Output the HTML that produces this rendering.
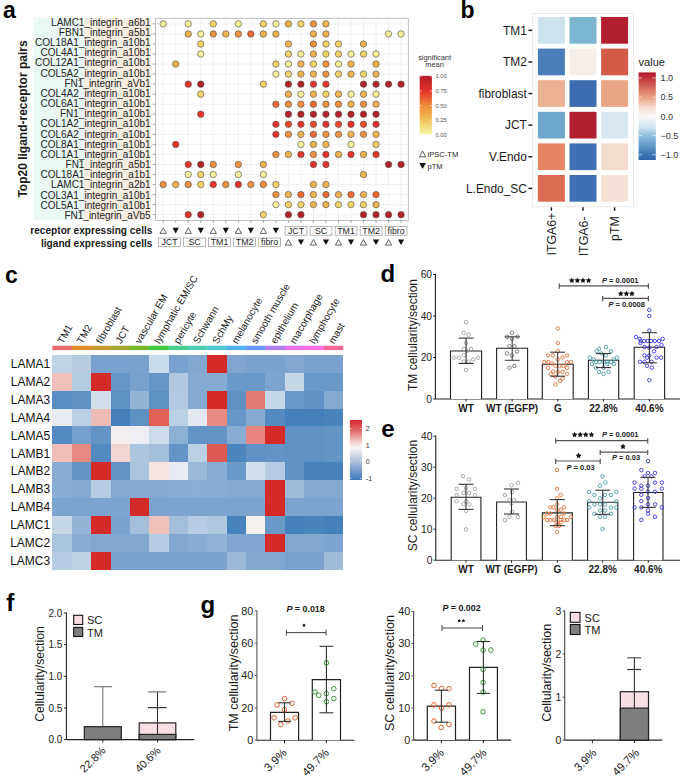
<!DOCTYPE html>
<html><head><meta charset="utf-8"><style>
html,body{margin:0;padding:0;background:#fff;}
svg{display:block;font-family:"Liberation Sans", sans-serif;}
</style></head><body>
<svg width="685" height="783" viewBox="0 0 685 783">
<rect width="685" height="783" fill="#fff"/>
<text x="3.00" y="17.60" font-size="23" text-anchor="start" font-weight="bold" fill="#000" >a</text>
<rect x="33.6" y="18" width="50.4" height="202" fill="#e9f7f5"/>
<rect x="84" y="18" width="67" height="202" fill="#f7ece2"/>
<text x="150.60" y="25.60" font-size="10" text-anchor="end" fill="#222" >LAMC1_integrin_a6b1</text>
<line x1="152.6" y1="23.90" x2="155.6" y2="23.90" stroke="#666" stroke-width="0.6"/>
<text x="150.60" y="35.78" font-size="10" text-anchor="end" fill="#222" >FBN1_integrin_a5b1</text>
<line x1="152.6" y1="33.94" x2="155.6" y2="33.94" stroke="#666" stroke-width="0.6"/>
<text x="150.60" y="45.96" font-size="10" text-anchor="end" fill="#222" >COL18A1_integrin_a10b1</text>
<line x1="152.6" y1="43.98" x2="155.6" y2="43.98" stroke="#666" stroke-width="0.6"/>
<text x="150.60" y="56.14" font-size="10" text-anchor="end" fill="#222" >COL4A1_integrin_a10b1</text>
<line x1="152.6" y1="54.02" x2="155.6" y2="54.02" stroke="#666" stroke-width="0.6"/>
<text x="150.60" y="66.32" font-size="10" text-anchor="end" fill="#222" >COL12A1_integrin_a10b1</text>
<line x1="152.6" y1="64.06" x2="155.6" y2="64.06" stroke="#666" stroke-width="0.6"/>
<text x="150.60" y="76.50" font-size="10" text-anchor="end" fill="#222" >COL5A2_integrin_a10b1</text>
<line x1="152.6" y1="74.10" x2="155.6" y2="74.10" stroke="#666" stroke-width="0.6"/>
<text x="150.60" y="86.68" font-size="10" text-anchor="end" fill="#222" >FN1_integrin_aVb1</text>
<line x1="152.6" y1="84.14" x2="155.6" y2="84.14" stroke="#666" stroke-width="0.6"/>
<text x="150.60" y="96.86" font-size="10" text-anchor="end" fill="#222" >COL4A2_integrin_a10b1</text>
<line x1="152.6" y1="94.18" x2="155.6" y2="94.18" stroke="#666" stroke-width="0.6"/>
<text x="150.60" y="107.04" font-size="10" text-anchor="end" fill="#222" >COL6A1_integrin_a10b1</text>
<line x1="152.6" y1="104.22" x2="155.6" y2="104.22" stroke="#666" stroke-width="0.6"/>
<text x="150.60" y="117.22" font-size="10" text-anchor="end" fill="#222" >FN1_integrin_a10b1</text>
<line x1="152.6" y1="114.26" x2="155.6" y2="114.26" stroke="#666" stroke-width="0.6"/>
<text x="150.60" y="127.40" font-size="10" text-anchor="end" fill="#222" >COL1A2_integrin_a10b1</text>
<line x1="152.6" y1="124.30" x2="155.6" y2="124.30" stroke="#666" stroke-width="0.6"/>
<text x="150.60" y="137.58" font-size="10" text-anchor="end" fill="#222" >COL6A2_integrin_a10b1</text>
<line x1="152.6" y1="134.34" x2="155.6" y2="134.34" stroke="#666" stroke-width="0.6"/>
<text x="150.60" y="147.76" font-size="10" text-anchor="end" fill="#222" >COL8A1_integrin_a10b1</text>
<line x1="152.6" y1="144.38" x2="155.6" y2="144.38" stroke="#666" stroke-width="0.6"/>
<text x="150.60" y="157.94" font-size="10" text-anchor="end" fill="#222" >COL1A1_integrin_a10b1</text>
<line x1="152.6" y1="154.42" x2="155.6" y2="154.42" stroke="#666" stroke-width="0.6"/>
<text x="150.60" y="168.12" font-size="10" text-anchor="end" fill="#222" >FN1_integrin_a5b1</text>
<line x1="152.6" y1="164.46" x2="155.6" y2="164.46" stroke="#666" stroke-width="0.6"/>
<text x="150.60" y="178.30" font-size="10" text-anchor="end" fill="#222" >COL18A1_integrin_a1b1</text>
<line x1="152.6" y1="174.50" x2="155.6" y2="174.50" stroke="#666" stroke-width="0.6"/>
<text x="150.60" y="188.48" font-size="10" text-anchor="end" fill="#222" >LAMC1_integrin_a2b1</text>
<line x1="152.6" y1="184.54" x2="155.6" y2="184.54" stroke="#666" stroke-width="0.6"/>
<text x="150.60" y="198.66" font-size="10" text-anchor="end" fill="#222" >COL3A1_integrin_a10b1</text>
<line x1="152.6" y1="194.58" x2="155.6" y2="194.58" stroke="#666" stroke-width="0.6"/>
<text x="150.60" y="208.84" font-size="10" text-anchor="end" fill="#222" >COL5A1_integrin_a10b1</text>
<line x1="152.6" y1="204.62" x2="155.6" y2="204.62" stroke="#666" stroke-width="0.6"/>
<text x="150.60" y="219.02" font-size="10" text-anchor="end" fill="#222" >FN1_integrin_aVb5</text>
<line x1="152.6" y1="214.66" x2="155.6" y2="214.66" stroke="#666" stroke-width="0.6"/>
<text transform="translate(27.3,119) rotate(-90)" font-size="12" font-weight="bold" text-anchor="middle" fill="#1a1a1a">Top20 ligand-receptor pairs</text>
<rect x="155.6" y="18.3" width="252.70" height="202.10" fill="#fff" stroke="#b0b0b0" stroke-width="0.8"/>
<line x1="163.20" y1="18.8" x2="163.20" y2="219.9" stroke="#ebebeb" stroke-width="0.7"/>
<line x1="163.20" y1="220.4" x2="163.20" y2="222.9" stroke="#666" stroke-width="0.6"/>
<line x1="175.72" y1="18.8" x2="175.72" y2="219.9" stroke="#ebebeb" stroke-width="0.7"/>
<line x1="175.72" y1="220.4" x2="175.72" y2="222.9" stroke="#666" stroke-width="0.6"/>
<line x1="188.24" y1="18.8" x2="188.24" y2="219.9" stroke="#ebebeb" stroke-width="0.7"/>
<line x1="188.24" y1="220.4" x2="188.24" y2="222.9" stroke="#666" stroke-width="0.6"/>
<line x1="200.76" y1="18.8" x2="200.76" y2="219.9" stroke="#ebebeb" stroke-width="0.7"/>
<line x1="200.76" y1="220.4" x2="200.76" y2="222.9" stroke="#666" stroke-width="0.6"/>
<line x1="213.28" y1="18.8" x2="213.28" y2="219.9" stroke="#ebebeb" stroke-width="0.7"/>
<line x1="213.28" y1="220.4" x2="213.28" y2="222.9" stroke="#666" stroke-width="0.6"/>
<line x1="225.80" y1="18.8" x2="225.80" y2="219.9" stroke="#ebebeb" stroke-width="0.7"/>
<line x1="225.80" y1="220.4" x2="225.80" y2="222.9" stroke="#666" stroke-width="0.6"/>
<line x1="238.32" y1="18.8" x2="238.32" y2="219.9" stroke="#ebebeb" stroke-width="0.7"/>
<line x1="238.32" y1="220.4" x2="238.32" y2="222.9" stroke="#666" stroke-width="0.6"/>
<line x1="250.84" y1="18.8" x2="250.84" y2="219.9" stroke="#ebebeb" stroke-width="0.7"/>
<line x1="250.84" y1="220.4" x2="250.84" y2="222.9" stroke="#666" stroke-width="0.6"/>
<line x1="263.36" y1="18.8" x2="263.36" y2="219.9" stroke="#ebebeb" stroke-width="0.7"/>
<line x1="263.36" y1="220.4" x2="263.36" y2="222.9" stroke="#666" stroke-width="0.6"/>
<line x1="275.88" y1="18.8" x2="275.88" y2="219.9" stroke="#ebebeb" stroke-width="0.7"/>
<line x1="275.88" y1="220.4" x2="275.88" y2="222.9" stroke="#666" stroke-width="0.6"/>
<line x1="288.40" y1="18.8" x2="288.40" y2="219.9" stroke="#ebebeb" stroke-width="0.7"/>
<line x1="288.40" y1="220.4" x2="288.40" y2="222.9" stroke="#666" stroke-width="0.6"/>
<line x1="300.92" y1="18.8" x2="300.92" y2="219.9" stroke="#ebebeb" stroke-width="0.7"/>
<line x1="300.92" y1="220.4" x2="300.92" y2="222.9" stroke="#666" stroke-width="0.6"/>
<line x1="313.44" y1="18.8" x2="313.44" y2="219.9" stroke="#ebebeb" stroke-width="0.7"/>
<line x1="313.44" y1="220.4" x2="313.44" y2="222.9" stroke="#666" stroke-width="0.6"/>
<line x1="325.96" y1="18.8" x2="325.96" y2="219.9" stroke="#ebebeb" stroke-width="0.7"/>
<line x1="325.96" y1="220.4" x2="325.96" y2="222.9" stroke="#666" stroke-width="0.6"/>
<line x1="338.48" y1="18.8" x2="338.48" y2="219.9" stroke="#ebebeb" stroke-width="0.7"/>
<line x1="338.48" y1="220.4" x2="338.48" y2="222.9" stroke="#666" stroke-width="0.6"/>
<line x1="351.00" y1="18.8" x2="351.00" y2="219.9" stroke="#ebebeb" stroke-width="0.7"/>
<line x1="351.00" y1="220.4" x2="351.00" y2="222.9" stroke="#666" stroke-width="0.6"/>
<line x1="363.52" y1="18.8" x2="363.52" y2="219.9" stroke="#ebebeb" stroke-width="0.7"/>
<line x1="363.52" y1="220.4" x2="363.52" y2="222.9" stroke="#666" stroke-width="0.6"/>
<line x1="376.04" y1="18.8" x2="376.04" y2="219.9" stroke="#ebebeb" stroke-width="0.7"/>
<line x1="376.04" y1="220.4" x2="376.04" y2="222.9" stroke="#666" stroke-width="0.6"/>
<line x1="388.56" y1="18.8" x2="388.56" y2="219.9" stroke="#ebebeb" stroke-width="0.7"/>
<line x1="388.56" y1="220.4" x2="388.56" y2="222.9" stroke="#666" stroke-width="0.6"/>
<line x1="401.08" y1="18.8" x2="401.08" y2="219.9" stroke="#ebebeb" stroke-width="0.7"/>
<line x1="401.08" y1="220.4" x2="401.08" y2="222.9" stroke="#666" stroke-width="0.6"/>
<line x1="156.1" y1="23.90" x2="407.8" y2="23.90" stroke="#ebebeb" stroke-width="0.7"/>
<line x1="156.1" y1="33.94" x2="407.8" y2="33.94" stroke="#ebebeb" stroke-width="0.7"/>
<line x1="156.1" y1="43.98" x2="407.8" y2="43.98" stroke="#ebebeb" stroke-width="0.7"/>
<line x1="156.1" y1="54.02" x2="407.8" y2="54.02" stroke="#ebebeb" stroke-width="0.7"/>
<line x1="156.1" y1="64.06" x2="407.8" y2="64.06" stroke="#ebebeb" stroke-width="0.7"/>
<line x1="156.1" y1="74.10" x2="407.8" y2="74.10" stroke="#ebebeb" stroke-width="0.7"/>
<line x1="156.1" y1="84.14" x2="407.8" y2="84.14" stroke="#ebebeb" stroke-width="0.7"/>
<line x1="156.1" y1="94.18" x2="407.8" y2="94.18" stroke="#ebebeb" stroke-width="0.7"/>
<line x1="156.1" y1="104.22" x2="407.8" y2="104.22" stroke="#ebebeb" stroke-width="0.7"/>
<line x1="156.1" y1="114.26" x2="407.8" y2="114.26" stroke="#ebebeb" stroke-width="0.7"/>
<line x1="156.1" y1="124.30" x2="407.8" y2="124.30" stroke="#ebebeb" stroke-width="0.7"/>
<line x1="156.1" y1="134.34" x2="407.8" y2="134.34" stroke="#ebebeb" stroke-width="0.7"/>
<line x1="156.1" y1="144.38" x2="407.8" y2="144.38" stroke="#ebebeb" stroke-width="0.7"/>
<line x1="156.1" y1="154.42" x2="407.8" y2="154.42" stroke="#ebebeb" stroke-width="0.7"/>
<line x1="156.1" y1="164.46" x2="407.8" y2="164.46" stroke="#ebebeb" stroke-width="0.7"/>
<line x1="156.1" y1="174.50" x2="407.8" y2="174.50" stroke="#ebebeb" stroke-width="0.7"/>
<line x1="156.1" y1="184.54" x2="407.8" y2="184.54" stroke="#ebebeb" stroke-width="0.7"/>
<line x1="156.1" y1="194.58" x2="407.8" y2="194.58" stroke="#ebebeb" stroke-width="0.7"/>
<line x1="156.1" y1="204.62" x2="407.8" y2="204.62" stroke="#ebebeb" stroke-width="0.7"/>
<line x1="156.1" y1="214.66" x2="407.8" y2="214.66" stroke="#ebebeb" stroke-width="0.7"/>
<circle cx="163.20" cy="23.90" r="3.2" fill="#f3ef9a" stroke="#4a4a4a" stroke-width="0.6"/>
<circle cx="188.24" cy="23.90" r="3.2" fill="#f3ef9a" stroke="#4a4a4a" stroke-width="0.6"/>
<circle cx="213.28" cy="23.90" r="3.2" fill="#f0d468" stroke="#4a4a4a" stroke-width="0.6"/>
<circle cx="238.32" cy="23.90" r="3.2" fill="#f3ef9a" stroke="#4a4a4a" stroke-width="0.6"/>
<circle cx="263.36" cy="23.90" r="3.2" fill="#f0d468" stroke="#4a4a4a" stroke-width="0.6"/>
<circle cx="275.88" cy="23.90" r="3.2" fill="#f3ef9a" stroke="#4a4a4a" stroke-width="0.6"/>
<circle cx="288.40" cy="23.90" r="3.2" fill="#eeb450" stroke="#4a4a4a" stroke-width="0.6"/>
<circle cx="300.92" cy="23.90" r="3.2" fill="#f0d468" stroke="#4a4a4a" stroke-width="0.6"/>
<circle cx="313.44" cy="23.90" r="3.2" fill="#ec9240" stroke="#4a4a4a" stroke-width="0.6"/>
<circle cx="325.96" cy="23.90" r="3.2" fill="#eeb450" stroke="#4a4a4a" stroke-width="0.6"/>
<circle cx="188.24" cy="33.94" r="3.2" fill="#eeb450" stroke="#4a4a4a" stroke-width="0.6"/>
<circle cx="200.76" cy="33.94" r="3.2" fill="#f3ef9a" stroke="#4a4a4a" stroke-width="0.6"/>
<circle cx="213.28" cy="33.94" r="3.2" fill="#ec9240" stroke="#4a4a4a" stroke-width="0.6"/>
<circle cx="225.80" cy="33.94" r="3.2" fill="#eeb450" stroke="#4a4a4a" stroke-width="0.6"/>
<circle cx="238.32" cy="33.94" r="3.2" fill="#ec9240" stroke="#4a4a4a" stroke-width="0.6"/>
<circle cx="250.84" cy="33.94" r="3.2" fill="#ec6a32" stroke="#4a4a4a" stroke-width="0.6"/>
<circle cx="263.36" cy="33.94" r="3.2" fill="#eeb450" stroke="#4a4a4a" stroke-width="0.6"/>
<circle cx="275.88" cy="33.94" r="3.2" fill="#eeb450" stroke="#4a4a4a" stroke-width="0.6"/>
<circle cx="313.44" cy="33.94" r="3.2" fill="#eeb450" stroke="#4a4a4a" stroke-width="0.6"/>
<circle cx="325.96" cy="33.94" r="3.2" fill="#eeb450" stroke="#4a4a4a" stroke-width="0.6"/>
<circle cx="388.56" cy="33.94" r="3.2" fill="#f3ef9a" stroke="#4a4a4a" stroke-width="0.6"/>
<circle cx="401.08" cy="33.94" r="3.2" fill="#f3ef9a" stroke="#4a4a4a" stroke-width="0.6"/>
<circle cx="200.76" cy="43.98" r="3.2" fill="#f0d468" stroke="#4a4a4a" stroke-width="0.6"/>
<circle cx="288.40" cy="43.98" r="3.2" fill="#eeb450" stroke="#4a4a4a" stroke-width="0.6"/>
<circle cx="313.44" cy="43.98" r="3.2" fill="#ec9240" stroke="#4a4a4a" stroke-width="0.6"/>
<circle cx="325.96" cy="43.98" r="3.2" fill="#f0d468" stroke="#4a4a4a" stroke-width="0.6"/>
<circle cx="338.48" cy="43.98" r="3.2" fill="#f0d468" stroke="#4a4a4a" stroke-width="0.6"/>
<circle cx="363.52" cy="43.98" r="3.2" fill="#eeb450" stroke="#4a4a4a" stroke-width="0.6"/>
<circle cx="200.76" cy="54.02" r="3.2" fill="#f3ef9a" stroke="#4a4a4a" stroke-width="0.6"/>
<circle cx="288.40" cy="54.02" r="3.2" fill="#f0d468" stroke="#4a4a4a" stroke-width="0.6"/>
<circle cx="300.92" cy="54.02" r="3.2" fill="#f3ef9a" stroke="#4a4a4a" stroke-width="0.6"/>
<circle cx="313.44" cy="54.02" r="3.2" fill="#eeb450" stroke="#4a4a4a" stroke-width="0.6"/>
<circle cx="325.96" cy="54.02" r="3.2" fill="#f0d468" stroke="#4a4a4a" stroke-width="0.6"/>
<circle cx="338.48" cy="54.02" r="3.2" fill="#f0d468" stroke="#4a4a4a" stroke-width="0.6"/>
<circle cx="351.00" cy="54.02" r="3.2" fill="#f3ef9a" stroke="#4a4a4a" stroke-width="0.6"/>
<circle cx="363.52" cy="54.02" r="3.2" fill="#f0d468" stroke="#4a4a4a" stroke-width="0.6"/>
<circle cx="376.04" cy="54.02" r="3.2" fill="#f3ef9a" stroke="#4a4a4a" stroke-width="0.6"/>
<circle cx="175.72" cy="64.06" r="3.2" fill="#eeb450" stroke="#4a4a4a" stroke-width="0.6"/>
<circle cx="275.88" cy="64.06" r="3.2" fill="#f0d468" stroke="#4a4a4a" stroke-width="0.6"/>
<circle cx="288.40" cy="64.06" r="3.2" fill="#f3ef9a" stroke="#4a4a4a" stroke-width="0.6"/>
<circle cx="300.92" cy="64.06" r="3.2" fill="#eeb450" stroke="#4a4a4a" stroke-width="0.6"/>
<circle cx="313.44" cy="64.06" r="3.2" fill="#f0d468" stroke="#4a4a4a" stroke-width="0.6"/>
<circle cx="325.96" cy="64.06" r="3.2" fill="#ec9240" stroke="#4a4a4a" stroke-width="0.6"/>
<circle cx="338.48" cy="64.06" r="3.2" fill="#f3ef9a" stroke="#4a4a4a" stroke-width="0.6"/>
<circle cx="351.00" cy="64.06" r="3.2" fill="#eeb450" stroke="#4a4a4a" stroke-width="0.6"/>
<circle cx="376.04" cy="64.06" r="3.2" fill="#eeb450" stroke="#4a4a4a" stroke-width="0.6"/>
<circle cx="275.88" cy="74.10" r="3.2" fill="#f3ef9a" stroke="#4a4a4a" stroke-width="0.6"/>
<circle cx="288.40" cy="74.10" r="3.2" fill="#f0d468" stroke="#4a4a4a" stroke-width="0.6"/>
<circle cx="300.92" cy="74.10" r="3.2" fill="#eeb450" stroke="#4a4a4a" stroke-width="0.6"/>
<circle cx="313.44" cy="74.10" r="3.2" fill="#eeb450" stroke="#4a4a4a" stroke-width="0.6"/>
<circle cx="325.96" cy="74.10" r="3.2" fill="#ec9240" stroke="#4a4a4a" stroke-width="0.6"/>
<circle cx="338.48" cy="74.10" r="3.2" fill="#f0d468" stroke="#4a4a4a" stroke-width="0.6"/>
<circle cx="351.00" cy="74.10" r="3.2" fill="#eeb450" stroke="#4a4a4a" stroke-width="0.6"/>
<circle cx="363.52" cy="74.10" r="3.2" fill="#f0d468" stroke="#4a4a4a" stroke-width="0.6"/>
<circle cx="376.04" cy="74.10" r="3.2" fill="#eeb450" stroke="#4a4a4a" stroke-width="0.6"/>
<circle cx="188.24" cy="84.14" r="3.2" fill="#e3332a" stroke="#4a4a4a" stroke-width="0.6"/>
<circle cx="200.76" cy="84.14" r="3.2" fill="#b32228" stroke="#4a4a4a" stroke-width="0.6"/>
<circle cx="263.36" cy="84.14" r="3.2" fill="#f0d468" stroke="#4a4a4a" stroke-width="0.6"/>
<circle cx="288.40" cy="84.14" r="3.2" fill="#b32228" stroke="#4a4a4a" stroke-width="0.6"/>
<circle cx="300.92" cy="84.14" r="3.2" fill="#b32228" stroke="#4a4a4a" stroke-width="0.6"/>
<circle cx="313.44" cy="84.14" r="3.2" fill="#e3332a" stroke="#4a4a4a" stroke-width="0.6"/>
<circle cx="325.96" cy="84.14" r="3.2" fill="#e3332a" stroke="#4a4a4a" stroke-width="0.6"/>
<circle cx="363.52" cy="84.14" r="3.2" fill="#b32228" stroke="#4a4a4a" stroke-width="0.6"/>
<circle cx="376.04" cy="84.14" r="3.2" fill="#b32228" stroke="#4a4a4a" stroke-width="0.6"/>
<circle cx="388.56" cy="84.14" r="3.2" fill="#b32228" stroke="#4a4a4a" stroke-width="0.6"/>
<circle cx="401.08" cy="84.14" r="3.2" fill="#b32228" stroke="#4a4a4a" stroke-width="0.6"/>
<circle cx="200.76" cy="94.18" r="3.2" fill="#f0d468" stroke="#4a4a4a" stroke-width="0.6"/>
<circle cx="288.40" cy="94.18" r="3.2" fill="#eeb450" stroke="#4a4a4a" stroke-width="0.6"/>
<circle cx="300.92" cy="94.18" r="3.2" fill="#f3ef9a" stroke="#4a4a4a" stroke-width="0.6"/>
<circle cx="313.44" cy="94.18" r="3.2" fill="#eeb450" stroke="#4a4a4a" stroke-width="0.6"/>
<circle cx="325.96" cy="94.18" r="3.2" fill="#f0d468" stroke="#4a4a4a" stroke-width="0.6"/>
<circle cx="338.48" cy="94.18" r="3.2" fill="#eeb450" stroke="#4a4a4a" stroke-width="0.6"/>
<circle cx="351.00" cy="94.18" r="3.2" fill="#f3ef9a" stroke="#4a4a4a" stroke-width="0.6"/>
<circle cx="363.52" cy="94.18" r="3.2" fill="#eeb450" stroke="#4a4a4a" stroke-width="0.6"/>
<circle cx="376.04" cy="94.18" r="3.2" fill="#f3ef9a" stroke="#4a4a4a" stroke-width="0.6"/>
<circle cx="275.88" cy="104.22" r="3.2" fill="#ec6a32" stroke="#4a4a4a" stroke-width="0.6"/>
<circle cx="288.40" cy="104.22" r="3.2" fill="#ec9240" stroke="#4a4a4a" stroke-width="0.6"/>
<circle cx="300.92" cy="104.22" r="3.2" fill="#ec9240" stroke="#4a4a4a" stroke-width="0.6"/>
<circle cx="313.44" cy="104.22" r="3.2" fill="#ec6a32" stroke="#4a4a4a" stroke-width="0.6"/>
<circle cx="325.96" cy="104.22" r="3.2" fill="#ec9240" stroke="#4a4a4a" stroke-width="0.6"/>
<circle cx="338.48" cy="104.22" r="3.2" fill="#ec9240" stroke="#4a4a4a" stroke-width="0.6"/>
<circle cx="351.00" cy="104.22" r="3.2" fill="#eeb450" stroke="#4a4a4a" stroke-width="0.6"/>
<circle cx="363.52" cy="104.22" r="3.2" fill="#ec9240" stroke="#4a4a4a" stroke-width="0.6"/>
<circle cx="376.04" cy="104.22" r="3.2" fill="#eeb450" stroke="#4a4a4a" stroke-width="0.6"/>
<circle cx="200.76" cy="114.26" r="3.2" fill="#e3332a" stroke="#4a4a4a" stroke-width="0.6"/>
<circle cx="288.40" cy="114.26" r="3.2" fill="#b32228" stroke="#4a4a4a" stroke-width="0.6"/>
<circle cx="300.92" cy="114.26" r="3.2" fill="#b32228" stroke="#4a4a4a" stroke-width="0.6"/>
<circle cx="313.44" cy="114.26" r="3.2" fill="#b32228" stroke="#4a4a4a" stroke-width="0.6"/>
<circle cx="325.96" cy="114.26" r="3.2" fill="#b32228" stroke="#4a4a4a" stroke-width="0.6"/>
<circle cx="338.48" cy="114.26" r="3.2" fill="#b32228" stroke="#4a4a4a" stroke-width="0.6"/>
<circle cx="351.00" cy="114.26" r="3.2" fill="#b32228" stroke="#4a4a4a" stroke-width="0.6"/>
<circle cx="363.52" cy="114.26" r="3.2" fill="#b32228" stroke="#4a4a4a" stroke-width="0.6"/>
<circle cx="376.04" cy="114.26" r="3.2" fill="#b32228" stroke="#4a4a4a" stroke-width="0.6"/>
<circle cx="275.88" cy="124.30" r="3.2" fill="#e3332a" stroke="#4a4a4a" stroke-width="0.6"/>
<circle cx="288.40" cy="124.30" r="3.2" fill="#ec4a2a" stroke="#4a4a4a" stroke-width="0.6"/>
<circle cx="300.92" cy="124.30" r="3.2" fill="#e3332a" stroke="#4a4a4a" stroke-width="0.6"/>
<circle cx="313.44" cy="124.30" r="3.2" fill="#ec4a2a" stroke="#4a4a4a" stroke-width="0.6"/>
<circle cx="325.96" cy="124.30" r="3.2" fill="#e3332a" stroke="#4a4a4a" stroke-width="0.6"/>
<circle cx="338.48" cy="124.30" r="3.2" fill="#ec4a2a" stroke="#4a4a4a" stroke-width="0.6"/>
<circle cx="351.00" cy="124.30" r="3.2" fill="#e3332a" stroke="#4a4a4a" stroke-width="0.6"/>
<circle cx="363.52" cy="124.30" r="3.2" fill="#ec4a2a" stroke="#4a4a4a" stroke-width="0.6"/>
<circle cx="376.04" cy="124.30" r="3.2" fill="#e3332a" stroke="#4a4a4a" stroke-width="0.6"/>
<circle cx="275.88" cy="134.34" r="3.2" fill="#e3332a" stroke="#4a4a4a" stroke-width="0.6"/>
<circle cx="288.40" cy="134.34" r="3.2" fill="#ec9240" stroke="#4a4a4a" stroke-width="0.6"/>
<circle cx="300.92" cy="134.34" r="3.2" fill="#eeb450" stroke="#4a4a4a" stroke-width="0.6"/>
<circle cx="313.44" cy="134.34" r="3.2" fill="#ec6a32" stroke="#4a4a4a" stroke-width="0.6"/>
<circle cx="325.96" cy="134.34" r="3.2" fill="#ec9240" stroke="#4a4a4a" stroke-width="0.6"/>
<circle cx="338.48" cy="134.34" r="3.2" fill="#ec9240" stroke="#4a4a4a" stroke-width="0.6"/>
<circle cx="351.00" cy="134.34" r="3.2" fill="#eeb450" stroke="#4a4a4a" stroke-width="0.6"/>
<circle cx="363.52" cy="134.34" r="3.2" fill="#ec9240" stroke="#4a4a4a" stroke-width="0.6"/>
<circle cx="376.04" cy="134.34" r="3.2" fill="#eeb450" stroke="#4a4a4a" stroke-width="0.6"/>
<circle cx="175.72" cy="144.38" r="3.2" fill="#e3332a" stroke="#4a4a4a" stroke-width="0.6"/>
<circle cx="300.92" cy="144.38" r="3.2" fill="#f3ef9a" stroke="#4a4a4a" stroke-width="0.6"/>
<circle cx="313.44" cy="144.38" r="3.2" fill="#eeb450" stroke="#4a4a4a" stroke-width="0.6"/>
<circle cx="325.96" cy="144.38" r="3.2" fill="#eeb450" stroke="#4a4a4a" stroke-width="0.6"/>
<circle cx="351.00" cy="144.38" r="3.2" fill="#f3ef9a" stroke="#4a4a4a" stroke-width="0.6"/>
<circle cx="376.04" cy="144.38" r="3.2" fill="#f0d468" stroke="#4a4a4a" stroke-width="0.6"/>
<circle cx="275.88" cy="154.42" r="3.2" fill="#ec9240" stroke="#4a4a4a" stroke-width="0.6"/>
<circle cx="288.40" cy="154.42" r="3.2" fill="#eeb450" stroke="#4a4a4a" stroke-width="0.6"/>
<circle cx="300.92" cy="154.42" r="3.2" fill="#e3332a" stroke="#4a4a4a" stroke-width="0.6"/>
<circle cx="313.44" cy="154.42" r="3.2" fill="#ec9240" stroke="#4a4a4a" stroke-width="0.6"/>
<circle cx="325.96" cy="154.42" r="3.2" fill="#e3332a" stroke="#4a4a4a" stroke-width="0.6"/>
<circle cx="338.48" cy="154.42" r="3.2" fill="#eeb450" stroke="#4a4a4a" stroke-width="0.6"/>
<circle cx="351.00" cy="154.42" r="3.2" fill="#e3332a" stroke="#4a4a4a" stroke-width="0.6"/>
<circle cx="363.52" cy="154.42" r="3.2" fill="#eeb450" stroke="#4a4a4a" stroke-width="0.6"/>
<circle cx="376.04" cy="154.42" r="3.2" fill="#e3332a" stroke="#4a4a4a" stroke-width="0.6"/>
<circle cx="188.24" cy="164.46" r="3.2" fill="#e3332a" stroke="#4a4a4a" stroke-width="0.6"/>
<circle cx="200.76" cy="164.46" r="3.2" fill="#b32228" stroke="#4a4a4a" stroke-width="0.6"/>
<circle cx="213.28" cy="164.46" r="3.2" fill="#ec9240" stroke="#4a4a4a" stroke-width="0.6"/>
<circle cx="238.32" cy="164.46" r="3.2" fill="#ec9240" stroke="#4a4a4a" stroke-width="0.6"/>
<circle cx="263.36" cy="164.46" r="3.2" fill="#eeb450" stroke="#4a4a4a" stroke-width="0.6"/>
<circle cx="313.44" cy="164.46" r="3.2" fill="#e3332a" stroke="#4a4a4a" stroke-width="0.6"/>
<circle cx="325.96" cy="164.46" r="3.2" fill="#e3332a" stroke="#4a4a4a" stroke-width="0.6"/>
<circle cx="388.56" cy="164.46" r="3.2" fill="#b32228" stroke="#4a4a4a" stroke-width="0.6"/>
<circle cx="401.08" cy="164.46" r="3.2" fill="#b32228" stroke="#4a4a4a" stroke-width="0.6"/>
<circle cx="188.24" cy="174.50" r="3.2" fill="#f3ef9a" stroke="#4a4a4a" stroke-width="0.6"/>
<circle cx="200.76" cy="174.50" r="3.2" fill="#f0d468" stroke="#4a4a4a" stroke-width="0.6"/>
<circle cx="213.28" cy="174.50" r="3.2" fill="#f3ef9a" stroke="#4a4a4a" stroke-width="0.6"/>
<circle cx="238.32" cy="174.50" r="3.2" fill="#f3ef9a" stroke="#4a4a4a" stroke-width="0.6"/>
<circle cx="263.36" cy="174.50" r="3.2" fill="#f3ef9a" stroke="#4a4a4a" stroke-width="0.6"/>
<circle cx="363.52" cy="174.50" r="3.2" fill="#eeb450" stroke="#4a4a4a" stroke-width="0.6"/>
<circle cx="163.20" cy="184.54" r="3.2" fill="#ec9240" stroke="#4a4a4a" stroke-width="0.6"/>
<circle cx="175.72" cy="184.54" r="3.2" fill="#eeb450" stroke="#4a4a4a" stroke-width="0.6"/>
<circle cx="188.24" cy="184.54" r="3.2" fill="#ec9240" stroke="#4a4a4a" stroke-width="0.6"/>
<circle cx="200.76" cy="184.54" r="3.2" fill="#f0d468" stroke="#4a4a4a" stroke-width="0.6"/>
<circle cx="213.28" cy="184.54" r="3.2" fill="#e3332a" stroke="#4a4a4a" stroke-width="0.6"/>
<circle cx="225.80" cy="184.54" r="3.2" fill="#ec9240" stroke="#4a4a4a" stroke-width="0.6"/>
<circle cx="238.32" cy="184.54" r="3.2" fill="#e3332a" stroke="#4a4a4a" stroke-width="0.6"/>
<circle cx="250.84" cy="184.54" r="3.2" fill="#ec9240" stroke="#4a4a4a" stroke-width="0.6"/>
<circle cx="263.36" cy="184.54" r="3.2" fill="#ec9240" stroke="#4a4a4a" stroke-width="0.6"/>
<circle cx="275.88" cy="184.54" r="3.2" fill="#f0d468" stroke="#4a4a4a" stroke-width="0.6"/>
<circle cx="313.44" cy="184.54" r="3.2" fill="#eeb450" stroke="#4a4a4a" stroke-width="0.6"/>
<circle cx="325.96" cy="184.54" r="3.2" fill="#eeb450" stroke="#4a4a4a" stroke-width="0.6"/>
<circle cx="275.88" cy="194.58" r="3.2" fill="#ec9240" stroke="#4a4a4a" stroke-width="0.6"/>
<circle cx="288.40" cy="194.58" r="3.2" fill="#eeb450" stroke="#4a4a4a" stroke-width="0.6"/>
<circle cx="300.92" cy="194.58" r="3.2" fill="#ec6a32" stroke="#4a4a4a" stroke-width="0.6"/>
<circle cx="313.44" cy="194.58" r="3.2" fill="#eeb450" stroke="#4a4a4a" stroke-width="0.6"/>
<circle cx="325.96" cy="194.58" r="3.2" fill="#ec6a32" stroke="#4a4a4a" stroke-width="0.6"/>
<circle cx="338.48" cy="194.58" r="3.2" fill="#eeb450" stroke="#4a4a4a" stroke-width="0.6"/>
<circle cx="351.00" cy="194.58" r="3.2" fill="#ec6a32" stroke="#4a4a4a" stroke-width="0.6"/>
<circle cx="363.52" cy="194.58" r="3.2" fill="#eeb450" stroke="#4a4a4a" stroke-width="0.6"/>
<circle cx="376.04" cy="194.58" r="3.2" fill="#ec6a32" stroke="#4a4a4a" stroke-width="0.6"/>
<circle cx="275.88" cy="204.62" r="3.2" fill="#f3ef9a" stroke="#4a4a4a" stroke-width="0.6"/>
<circle cx="288.40" cy="204.62" r="3.2" fill="#f0d468" stroke="#4a4a4a" stroke-width="0.6"/>
<circle cx="300.92" cy="204.62" r="3.2" fill="#f0d468" stroke="#4a4a4a" stroke-width="0.6"/>
<circle cx="313.44" cy="204.62" r="3.2" fill="#eeb450" stroke="#4a4a4a" stroke-width="0.6"/>
<circle cx="325.96" cy="204.62" r="3.2" fill="#eeb450" stroke="#4a4a4a" stroke-width="0.6"/>
<circle cx="338.48" cy="204.62" r="3.2" fill="#f0d468" stroke="#4a4a4a" stroke-width="0.6"/>
<circle cx="351.00" cy="204.62" r="3.2" fill="#f0d468" stroke="#4a4a4a" stroke-width="0.6"/>
<circle cx="363.52" cy="204.62" r="3.2" fill="#f0d468" stroke="#4a4a4a" stroke-width="0.6"/>
<circle cx="376.04" cy="204.62" r="3.2" fill="#eeb450" stroke="#4a4a4a" stroke-width="0.6"/>
<circle cx="188.24" cy="214.66" r="3.2" fill="#e3332a" stroke="#4a4a4a" stroke-width="0.6"/>
<circle cx="200.76" cy="214.66" r="3.2" fill="#b32228" stroke="#4a4a4a" stroke-width="0.6"/>
<circle cx="263.36" cy="214.66" r="3.2" fill="#f0d468" stroke="#4a4a4a" stroke-width="0.6"/>
<circle cx="288.40" cy="214.66" r="3.2" fill="#b32228" stroke="#4a4a4a" stroke-width="0.6"/>
<circle cx="300.92" cy="214.66" r="3.2" fill="#b32228" stroke="#4a4a4a" stroke-width="0.6"/>
<circle cx="363.52" cy="214.66" r="3.2" fill="#b32228" stroke="#4a4a4a" stroke-width="0.6"/>
<circle cx="376.04" cy="214.66" r="3.2" fill="#b32228" stroke="#4a4a4a" stroke-width="0.6"/>
<circle cx="388.56" cy="214.66" r="3.2" fill="#b32228" stroke="#4a4a4a" stroke-width="0.6"/>
<circle cx="401.08" cy="214.66" r="3.2" fill="#b32228" stroke="#4a4a4a" stroke-width="0.6"/>
<path d="M160.10,233.39 L166.30,233.39 L163.20,227.81 Z" fill="none" stroke="#222" stroke-width="0.7"/>
<path d="M172.62,227.81 L178.82,227.81 L175.72,233.39 Z" fill="#111"/>
<path d="M185.14,233.39 L191.34,233.39 L188.24,227.81 Z" fill="none" stroke="#222" stroke-width="0.7"/>
<path d="M197.66,227.81 L203.86,227.81 L200.76,233.39 Z" fill="#111"/>
<path d="M210.18,233.39 L216.38,233.39 L213.28,227.81 Z" fill="none" stroke="#222" stroke-width="0.7"/>
<path d="M222.70,227.81 L228.90,227.81 L225.80,233.39 Z" fill="#111"/>
<path d="M235.22,233.39 L241.42,233.39 L238.32,227.81 Z" fill="none" stroke="#222" stroke-width="0.7"/>
<path d="M247.74,227.81 L253.94,227.81 L250.84,233.39 Z" fill="#111"/>
<path d="M260.26,233.39 L266.46,233.39 L263.36,227.81 Z" fill="none" stroke="#222" stroke-width="0.7"/>
<path d="M272.78,227.81 L278.98,227.81 L275.88,233.39 Z" fill="#111"/>
<path d="M285.30,245.09 L291.50,245.09 L288.40,239.51 Z" fill="none" stroke="#222" stroke-width="0.7"/>
<path d="M297.82,239.51 L304.02,239.51 L300.92,245.09 Z" fill="#111"/>
<path d="M310.34,245.09 L316.54,245.09 L313.44,239.51 Z" fill="none" stroke="#222" stroke-width="0.7"/>
<path d="M322.86,239.51 L329.06,239.51 L325.96,245.09 Z" fill="#111"/>
<path d="M335.38,245.09 L341.58,245.09 L338.48,239.51 Z" fill="none" stroke="#222" stroke-width="0.7"/>
<path d="M347.90,239.51 L354.10,239.51 L351.00,245.09 Z" fill="#111"/>
<path d="M360.42,245.09 L366.62,245.09 L363.52,239.51 Z" fill="none" stroke="#222" stroke-width="0.7"/>
<path d="M372.94,239.51 L379.14,239.51 L376.04,245.09 Z" fill="#111"/>
<path d="M385.46,245.09 L391.66,245.09 L388.56,239.51 Z" fill="none" stroke="#222" stroke-width="0.7"/>
<path d="M397.98,239.51 L404.18,239.51 L401.08,245.09 Z" fill="#111"/>
<rect x="158.56" y="238.0" width="21.8" height="8.6" fill="#fff" stroke="#999" stroke-width="0.7"/>
<text x="169.46" y="245.40" font-size="8.8" text-anchor="middle" fill="#222" >JCT</text>
<rect x="285.06" y="226.6" width="21.8" height="8.6" fill="#fff" stroke="#999" stroke-width="0.7"/>
<text x="295.96" y="234.00" font-size="8.8" text-anchor="middle" fill="#222" >JCT</text>
<rect x="183.60" y="238.0" width="21.8" height="8.6" fill="#fff" stroke="#999" stroke-width="0.7"/>
<text x="194.50" y="245.40" font-size="8.8" text-anchor="middle" fill="#222" >SC</text>
<rect x="310.10" y="226.6" width="21.8" height="8.6" fill="#fff" stroke="#999" stroke-width="0.7"/>
<text x="321.00" y="234.00" font-size="8.8" text-anchor="middle" fill="#222" >SC</text>
<rect x="208.64" y="238.0" width="21.8" height="8.6" fill="#fff" stroke="#999" stroke-width="0.7"/>
<text x="219.54" y="245.40" font-size="8.8" text-anchor="middle" fill="#222" >TM1</text>
<rect x="335.14" y="226.6" width="21.8" height="8.6" fill="#fff" stroke="#999" stroke-width="0.7"/>
<text x="346.04" y="234.00" font-size="8.8" text-anchor="middle" fill="#222" >TM1</text>
<rect x="233.68" y="238.0" width="21.8" height="8.6" fill="#fff" stroke="#999" stroke-width="0.7"/>
<text x="244.58" y="245.40" font-size="8.8" text-anchor="middle" fill="#222" >TM2</text>
<rect x="360.18" y="226.6" width="21.8" height="8.6" fill="#fff" stroke="#999" stroke-width="0.7"/>
<text x="371.08" y="234.00" font-size="8.8" text-anchor="middle" fill="#222" >TM2</text>
<rect x="258.72" y="238.0" width="21.8" height="8.6" fill="#fff" stroke="#999" stroke-width="0.7"/>
<text x="269.62" y="245.40" font-size="8.8" text-anchor="middle" fill="#222" >fibro</text>
<rect x="385.22" y="226.6" width="21.8" height="8.6" fill="#fff" stroke="#999" stroke-width="0.7"/>
<text x="396.12" y="234.00" font-size="8.8" text-anchor="middle" fill="#222" >fibro</text>
<text x="152.40" y="234.30" font-size="10.15" text-anchor="end" font-weight="bold" fill="#1a1a1a" >receptor expressing cells</text>
<text x="152.40" y="246.80" font-size="10.15" text-anchor="end" font-weight="bold" fill="#1a1a1a" >ligand expressing cells</text>
<text x="434.60" y="60.00" font-size="7.4" text-anchor="middle" fill="#333" >significant</text>
<text x="434.60" y="66.60" font-size="7.4" text-anchor="middle" fill="#333" >mean</text>
<defs><linearGradient id="gA" x1="0" y1="1" x2="0" y2="0"><stop offset="0" stop-color="#f7f9a8"/><stop offset="0.25" stop-color="#efc055"/><stop offset="0.5" stop-color="#ee8a38"/><stop offset="0.75" stop-color="#e3302a"/><stop offset="1" stop-color="#b01e26"/></linearGradient></defs>
<rect x="419.7" y="75.8" width="12.2" height="58.7" fill="url(#gA)"/>
<line x1="419.7" y1="76.30" x2="421.8" y2="76.30" stroke="#fff" stroke-width="0.5"/>
<line x1="429.8" y1="76.30" x2="431.9" y2="76.30" stroke="#fff" stroke-width="0.5"/>
<text x="435.40" y="78.30" font-size="5.8" text-anchor="start" fill="#555" >1.00</text>
<line x1="419.7" y1="90.93" x2="421.8" y2="90.93" stroke="#fff" stroke-width="0.5"/>
<line x1="429.8" y1="90.93" x2="431.9" y2="90.93" stroke="#fff" stroke-width="0.5"/>
<text x="435.40" y="92.93" font-size="5.8" text-anchor="start" fill="#555" >0.75</text>
<line x1="419.7" y1="105.56" x2="421.8" y2="105.56" stroke="#fff" stroke-width="0.5"/>
<line x1="429.8" y1="105.56" x2="431.9" y2="105.56" stroke="#fff" stroke-width="0.5"/>
<text x="435.40" y="107.56" font-size="5.8" text-anchor="start" fill="#555" >0.50</text>
<line x1="419.7" y1="120.19" x2="421.8" y2="120.19" stroke="#fff" stroke-width="0.5"/>
<line x1="429.8" y1="120.19" x2="431.9" y2="120.19" stroke="#fff" stroke-width="0.5"/>
<text x="435.40" y="122.19" font-size="5.8" text-anchor="start" fill="#555" >0.25</text>
<line x1="419.7" y1="134.82" x2="421.8" y2="134.82" stroke="#fff" stroke-width="0.5"/>
<line x1="429.8" y1="134.82" x2="431.9" y2="134.82" stroke="#fff" stroke-width="0.5"/>
<text x="435.40" y="136.82" font-size="5.8" text-anchor="start" fill="#555" >0.00</text>
<path d="M419.40,156.88 L425.80,156.88 L422.60,151.12 Z" fill="none" stroke="#222" stroke-width="0.7"/>
<text x="427.50" y="156.80" font-size="7.6" text-anchor="start" fill="#222" >iPSC-TM</text>
<path d="M419.30,163.03 L425.90,163.03 L422.60,168.97 Z" fill="#111"/>
<text x="427.50" y="168.80" font-size="7.6" text-anchor="start" fill="#222" >pTM</text>
<text x="460.60" y="18.00" font-size="23" text-anchor="start" font-weight="bold" fill="#000" >b</text>
<rect x="532.7" y="13.6" width="100.9" height="193.2" fill="#fff" stroke="#e6e6e6" stroke-width="0.8"/>
<rect x="537.90" y="17.00" width="27.0" height="26.7" fill="#cce3ec"/>
<rect x="569.50" y="17.00" width="27.0" height="26.7" fill="#7db6d0"/>
<rect x="601.10" y="17.00" width="27.0" height="26.7" fill="#b22030"/>
<text x="526.80" y="34.55" font-size="11.9" text-anchor="end" fill="#1a1a1a" >TM1</text>
<line x1="528.4" y1="30.35" x2="532.2" y2="30.35" stroke="#222" stroke-width="1.5"/>
<rect x="537.90" y="48.60" width="27.0" height="26.7" fill="#4a7dba"/>
<rect x="569.50" y="48.60" width="27.0" height="26.7" fill="#f6eee9"/>
<rect x="601.10" y="48.60" width="27.0" height="26.7" fill="#d45b48"/>
<text x="526.80" y="66.15" font-size="11.9" text-anchor="end" fill="#1a1a1a" >TM2</text>
<line x1="528.4" y1="61.95" x2="532.2" y2="61.95" stroke="#222" stroke-width="1.5"/>
<rect x="537.90" y="80.20" width="27.0" height="26.7" fill="#ecb092"/>
<rect x="569.50" y="80.20" width="27.0" height="26.7" fill="#3d6cb0"/>
<rect x="601.10" y="80.20" width="27.0" height="26.7" fill="#e9a586"/>
<text x="526.80" y="97.75" font-size="11.9" text-anchor="end" fill="#1a1a1a" >fibroblast</text>
<line x1="528.4" y1="93.55" x2="532.2" y2="93.55" stroke="#222" stroke-width="1.5"/>
<rect x="537.90" y="111.80" width="27.0" height="26.7" fill="#6fa8cc"/>
<rect x="569.50" y="111.80" width="27.0" height="26.7" fill="#b22030"/>
<rect x="601.10" y="111.80" width="27.0" height="26.7" fill="#d8e9f1"/>
<text x="526.80" y="129.35" font-size="11.9" text-anchor="end" fill="#1a1a1a" >JCT</text>
<line x1="528.4" y1="125.15" x2="532.2" y2="125.15" stroke="#222" stroke-width="1.5"/>
<rect x="537.90" y="143.40" width="27.0" height="26.7" fill="#e58564"/>
<rect x="569.50" y="143.40" width="27.0" height="26.7" fill="#3f70b3"/>
<rect x="601.10" y="143.40" width="27.0" height="26.7" fill="#f3dccf"/>
<text x="526.80" y="160.95" font-size="11.9" text-anchor="end" fill="#1a1a1a" >V.Endo</text>
<line x1="528.4" y1="156.75" x2="532.2" y2="156.75" stroke="#222" stroke-width="1.5"/>
<rect x="537.90" y="175.00" width="27.0" height="26.7" fill="#dc6c53"/>
<rect x="569.50" y="175.00" width="27.0" height="26.7" fill="#3f70b3"/>
<rect x="601.10" y="175.00" width="27.0" height="26.7" fill="#f4e2d7"/>
<text x="526.80" y="192.55" font-size="11.9" text-anchor="end" fill="#1a1a1a" >L.Endo_SC</text>
<line x1="528.4" y1="188.35" x2="532.2" y2="188.35" stroke="#222" stroke-width="1.5"/>
<line x1="551.40" y1="207.3" x2="551.40" y2="210.8" stroke="#222" stroke-width="1.5"/>
<text transform="translate(556.20,212.50) rotate(-90)" font-size="12.4" text-anchor="end" fill="#1a1a1a">ITGA6+</text>
<line x1="583.00" y1="207.3" x2="583.00" y2="210.8" stroke="#222" stroke-width="1.5"/>
<text transform="translate(587.50,216.40) rotate(-90)" font-size="12.4" text-anchor="end" fill="#1a1a1a">ITGA6-</text>
<line x1="614.60" y1="207.3" x2="614.60" y2="210.8" stroke="#222" stroke-width="1.5"/>
<text transform="translate(619.00,216.20) rotate(-90)" font-size="12.4" text-anchor="end" fill="#1a1a1a">pTM</text>
<text x="638.60" y="66.00" font-size="11" text-anchor="start" fill="#1a1a1a" >value</text>
<defs><linearGradient id="gB" x1="0" y1="0" x2="0" y2="1"><stop offset="0" stop-color="#b2182b"/><stop offset="0.064" stop-color="#c0343a"/><stop offset="0.284" stop-color="#eca284"/><stop offset="0.4" stop-color="#f7dccd"/><stop offset="0.503" stop-color="#f7f7f7"/><stop offset="0.62" stop-color="#d4e6f1"/><stop offset="0.72" stop-color="#8fc0dd"/><stop offset="0.94" stop-color="#3c74b4"/><stop offset="1" stop-color="#2f66ad"/></linearGradient></defs>
<rect x="638.6" y="72.4" width="17.2" height="87.6" fill="url(#gB)"/>
<line x1="638.6" y1="78.00" x2="642" y2="78.00" stroke="#fff" stroke-width="0.6"/>
<line x1="652.4" y1="78.00" x2="655.8" y2="78.00" stroke="#fff" stroke-width="0.6"/>
<text x="660.60" y="81.20" font-size="9" text-anchor="start" fill="#333" >1.0</text>
<line x1="638.6" y1="97.18" x2="642" y2="97.18" stroke="#fff" stroke-width="0.6"/>
<line x1="652.4" y1="97.18" x2="655.8" y2="97.18" stroke="#fff" stroke-width="0.6"/>
<text x="660.60" y="100.38" font-size="9" text-anchor="start" fill="#333" >0.5</text>
<line x1="638.6" y1="116.36" x2="642" y2="116.36" stroke="#fff" stroke-width="0.6"/>
<line x1="652.4" y1="116.36" x2="655.8" y2="116.36" stroke="#fff" stroke-width="0.6"/>
<text x="660.60" y="119.56" font-size="9" text-anchor="start" fill="#333" >0.0</text>
<line x1="638.6" y1="135.54" x2="642" y2="135.54" stroke="#fff" stroke-width="0.6"/>
<line x1="652.4" y1="135.54" x2="655.8" y2="135.54" stroke="#fff" stroke-width="0.6"/>
<text x="660.60" y="138.74" font-size="9" text-anchor="start" fill="#333" >−0.5</text>
<line x1="638.6" y1="154.72" x2="642" y2="154.72" stroke="#fff" stroke-width="0.6"/>
<line x1="652.4" y1="154.72" x2="655.8" y2="154.72" stroke="#fff" stroke-width="0.6"/>
<text x="660.60" y="157.92" font-size="9" text-anchor="start" fill="#333" >−1.0</text>
<text x="5.00" y="283.20" font-size="23" text-anchor="start" font-weight="bold" fill="#000" >c</text>
<rect x="52.40" y="345.7" width="19.67" height="4.4" fill="#E86A6A"/>
<text transform="translate(62.88,344.4) rotate(-60)" font-size="10" fill="#1a1a1a">TM1</text>
<rect x="71.77" y="345.7" width="19.67" height="4.4" fill="#E08A28"/>
<text transform="translate(82.25,344.4) rotate(-60)" font-size="10" fill="#1a1a1a">TM2</text>
<rect x="91.14" y="345.7" width="19.67" height="4.4" fill="#C49A2C"/>
<text transform="translate(101.62,344.4) rotate(-60)" font-size="10" fill="#1a1a1a">fibroblast</text>
<rect x="110.51" y="345.7" width="19.67" height="4.4" fill="#A2A830"/>
<text transform="translate(120.99,344.4) rotate(-60)" font-size="10" fill="#1a1a1a">JCT</text>
<rect x="129.88" y="345.7" width="19.67" height="4.4" fill="#76B82A"/>
<text transform="translate(140.37,344.4) rotate(-60)" font-size="10" fill="#1a1a1a">vascular EM</text>
<rect x="149.25" y="345.7" width="19.67" height="4.4" fill="#3EC83E"/>
<text transform="translate(159.74,344.4) rotate(-60)" font-size="10" fill="#1a1a1a">lymphatic EM/SC</text>
<rect x="168.62" y="345.7" width="19.67" height="4.4" fill="#4ACC90"/>
<text transform="translate(179.11,344.4) rotate(-60)" font-size="10" fill="#1a1a1a">pericyte</text>
<rect x="187.99" y="345.7" width="19.67" height="4.4" fill="#50D0B2"/>
<text transform="translate(198.48,344.4) rotate(-60)" font-size="10" fill="#1a1a1a">Schwann</text>
<rect x="207.36" y="345.7" width="19.67" height="4.4" fill="#50C8D8"/>
<text transform="translate(217.85,344.4) rotate(-60)" font-size="10" fill="#1a1a1a">SchMy</text>
<rect x="226.73" y="345.7" width="19.67" height="4.4" fill="#50B0F0"/>
<text transform="translate(237.22,344.4) rotate(-60)" font-size="10" fill="#1a1a1a">melanocyte</text>
<rect x="246.10" y="345.7" width="19.67" height="4.4" fill="#6898F0"/>
<text transform="translate(256.59,344.4) rotate(-60)" font-size="10" fill="#1a1a1a">smooth muscle</text>
<rect x="265.47" y="345.7" width="19.67" height="4.4" fill="#B080F0"/>
<text transform="translate(275.96,344.4) rotate(-60)" font-size="10" fill="#1a1a1a">epithelium</text>
<rect x="284.84" y="345.7" width="19.67" height="4.4" fill="#E870F0"/>
<text transform="translate(295.32,344.4) rotate(-60)" font-size="10" fill="#1a1a1a">macorphage</text>
<rect x="304.21" y="345.7" width="19.67" height="4.4" fill="#F870E0"/>
<text transform="translate(314.69,344.4) rotate(-60)" font-size="10" fill="#1a1a1a">lymphocyte</text>
<rect x="323.58" y="345.7" width="19.67" height="4.4" fill="#F06898"/>
<text transform="translate(334.06,344.4) rotate(-60)" font-size="10" fill="#1a1a1a">mast</text>
<rect x="52.40" y="355.00" width="19.67" height="18.17" fill="#bfd3e6" shape-rendering="crispEdges"/>
<rect x="71.77" y="355.00" width="19.67" height="18.17" fill="#b6cbe2" shape-rendering="crispEdges"/>
<rect x="91.14" y="355.00" width="19.67" height="18.17" fill="#78a2cd" shape-rendering="crispEdges"/>
<rect x="110.51" y="355.00" width="19.67" height="18.17" fill="#78a2cd" shape-rendering="crispEdges"/>
<rect x="129.88" y="355.00" width="19.67" height="18.17" fill="#7aa2cd" shape-rendering="crispEdges"/>
<rect x="149.25" y="355.00" width="19.67" height="18.17" fill="#cadceb" shape-rendering="crispEdges"/>
<rect x="168.62" y="355.00" width="19.67" height="18.17" fill="#78a2cd" shape-rendering="crispEdges"/>
<rect x="187.99" y="355.00" width="19.67" height="18.17" fill="#82a8d0" shape-rendering="crispEdges"/>
<rect x="207.36" y="355.00" width="19.67" height="18.17" fill="#d42a2a" shape-rendering="crispEdges"/>
<rect x="226.73" y="355.00" width="19.67" height="18.17" fill="#80a6cf" shape-rendering="crispEdges"/>
<rect x="246.10" y="355.00" width="19.67" height="18.17" fill="#7aa2cd" shape-rendering="crispEdges"/>
<rect x="265.47" y="355.00" width="19.67" height="18.17" fill="#7aa2cd" shape-rendering="crispEdges"/>
<rect x="284.84" y="355.00" width="19.67" height="18.17" fill="#82a8d0" shape-rendering="crispEdges"/>
<rect x="304.21" y="355.00" width="19.67" height="18.17" fill="#7aa2cd" shape-rendering="crispEdges"/>
<rect x="323.58" y="355.00" width="19.67" height="18.17" fill="#7aa2cd" shape-rendering="crispEdges"/>
<text x="50.20" y="368.24" font-size="12" text-anchor="end" fill="#111" >LAMA1</text>
<rect x="52.40" y="372.87" width="19.67" height="18.17" fill="#f0c0bc" shape-rendering="crispEdges"/>
<rect x="71.77" y="372.87" width="19.67" height="18.17" fill="#b2cce2" shape-rendering="crispEdges"/>
<rect x="91.14" y="372.87" width="19.67" height="18.17" fill="#d42a2a" shape-rendering="crispEdges"/>
<rect x="110.51" y="372.87" width="19.67" height="18.17" fill="#6796c6" shape-rendering="crispEdges"/>
<rect x="129.88" y="372.87" width="19.67" height="18.17" fill="#77a0cb" shape-rendering="crispEdges"/>
<rect x="149.25" y="372.87" width="19.67" height="18.17" fill="#6796c6" shape-rendering="crispEdges"/>
<rect x="168.62" y="372.87" width="19.67" height="18.17" fill="#afc8e0" shape-rendering="crispEdges"/>
<rect x="187.99" y="372.87" width="19.67" height="18.17" fill="#84aad1" shape-rendering="crispEdges"/>
<rect x="207.36" y="372.87" width="19.67" height="18.17" fill="#84aad1" shape-rendering="crispEdges"/>
<rect x="226.73" y="372.87" width="19.67" height="18.17" fill="#6a99c8" shape-rendering="crispEdges"/>
<rect x="246.10" y="372.87" width="19.67" height="18.17" fill="#6a99c8" shape-rendering="crispEdges"/>
<rect x="265.47" y="372.87" width="19.67" height="18.17" fill="#7ca4ce" shape-rendering="crispEdges"/>
<rect x="284.84" y="372.87" width="19.67" height="18.17" fill="#c6d8e8" shape-rendering="crispEdges"/>
<rect x="304.21" y="372.87" width="19.67" height="18.17" fill="#6a99c8" shape-rendering="crispEdges"/>
<rect x="323.58" y="372.87" width="19.67" height="18.17" fill="#6a99c8" shape-rendering="crispEdges"/>
<text x="50.20" y="386.11" font-size="12" text-anchor="end" fill="#111" >LAMA2</text>
<rect x="52.40" y="390.74" width="19.67" height="18.17" fill="#598cc2" shape-rendering="crispEdges"/>
<rect x="71.77" y="390.74" width="19.67" height="18.17" fill="#6090c4" shape-rendering="crispEdges"/>
<rect x="91.14" y="390.74" width="19.67" height="18.17" fill="#cfdfea" shape-rendering="crispEdges"/>
<rect x="110.51" y="390.74" width="19.67" height="18.17" fill="#5f90c4" shape-rendering="crispEdges"/>
<rect x="129.88" y="390.74" width="19.67" height="18.17" fill="#94b4d6" shape-rendering="crispEdges"/>
<rect x="149.25" y="390.74" width="19.67" height="18.17" fill="#5f90c4" shape-rendering="crispEdges"/>
<rect x="168.62" y="390.74" width="19.67" height="18.17" fill="#b2cae1" shape-rendering="crispEdges"/>
<rect x="187.99" y="390.74" width="19.67" height="18.17" fill="#84aad1" shape-rendering="crispEdges"/>
<rect x="207.36" y="390.74" width="19.67" height="18.17" fill="#d42a2a" shape-rendering="crispEdges"/>
<rect x="226.73" y="390.74" width="19.67" height="18.17" fill="#6090c4" shape-rendering="crispEdges"/>
<rect x="246.10" y="390.74" width="19.67" height="18.17" fill="#e27a72" shape-rendering="crispEdges"/>
<rect x="265.47" y="390.74" width="19.67" height="18.17" fill="#c6d8e8" shape-rendering="crispEdges"/>
<rect x="284.84" y="390.74" width="19.67" height="18.17" fill="#6a99c8" shape-rendering="crispEdges"/>
<rect x="304.21" y="390.74" width="19.67" height="18.17" fill="#6090c4" shape-rendering="crispEdges"/>
<rect x="323.58" y="390.74" width="19.67" height="18.17" fill="#84aad1" shape-rendering="crispEdges"/>
<text x="50.20" y="403.98" font-size="12" text-anchor="end" fill="#111" >LAMA3</text>
<rect x="52.40" y="408.61" width="19.67" height="18.17" fill="#e8ecf2" shape-rendering="crispEdges"/>
<rect x="71.77" y="408.61" width="19.67" height="18.17" fill="#bad0e4" shape-rendering="crispEdges"/>
<rect x="91.14" y="408.61" width="19.67" height="18.17" fill="#eebcb8" shape-rendering="crispEdges"/>
<rect x="110.51" y="408.61" width="19.67" height="18.17" fill="#4480bb" shape-rendering="crispEdges"/>
<rect x="129.88" y="408.61" width="19.67" height="18.17" fill="#5e90c4" shape-rendering="crispEdges"/>
<rect x="149.25" y="408.61" width="19.67" height="18.17" fill="#e06058" shape-rendering="crispEdges"/>
<rect x="168.62" y="408.61" width="19.67" height="18.17" fill="#bad0e4" shape-rendering="crispEdges"/>
<rect x="187.99" y="408.61" width="19.67" height="18.17" fill="#e4e8f2" shape-rendering="crispEdges"/>
<rect x="207.36" y="408.61" width="19.67" height="18.17" fill="#e88a84" shape-rendering="crispEdges"/>
<rect x="226.73" y="408.61" width="19.67" height="18.17" fill="#6896c7" shape-rendering="crispEdges"/>
<rect x="246.10" y="408.61" width="19.67" height="18.17" fill="#84aad1" shape-rendering="crispEdges"/>
<rect x="265.47" y="408.61" width="19.67" height="18.17" fill="#548ac1" shape-rendering="crispEdges"/>
<rect x="284.84" y="408.61" width="19.67" height="18.17" fill="#4480bb" shape-rendering="crispEdges"/>
<rect x="304.21" y="408.61" width="19.67" height="18.17" fill="#4480bb" shape-rendering="crispEdges"/>
<rect x="323.58" y="408.61" width="19.67" height="18.17" fill="#4a84bd" shape-rendering="crispEdges"/>
<text x="50.20" y="421.85" font-size="12" text-anchor="end" fill="#111" >LAMA4</text>
<rect x="52.40" y="426.48" width="19.67" height="18.17" fill="#548ac1" shape-rendering="crispEdges"/>
<rect x="71.77" y="426.48" width="19.67" height="18.17" fill="#74a0cb" shape-rendering="crispEdges"/>
<rect x="91.14" y="426.48" width="19.67" height="18.17" fill="#6494c6" shape-rendering="crispEdges"/>
<rect x="110.51" y="426.48" width="19.67" height="18.17" fill="#f5eeee" shape-rendering="crispEdges"/>
<rect x="129.88" y="426.48" width="19.67" height="18.17" fill="#eeeef4" shape-rendering="crispEdges"/>
<rect x="149.25" y="426.48" width="19.67" height="18.17" fill="#ccdcea" shape-rendering="crispEdges"/>
<rect x="168.62" y="426.48" width="19.67" height="18.17" fill="#8cb0d3" shape-rendering="crispEdges"/>
<rect x="187.99" y="426.48" width="19.67" height="18.17" fill="#6494c6" shape-rendering="crispEdges"/>
<rect x="207.36" y="426.48" width="19.67" height="18.17" fill="#6494c6" shape-rendering="crispEdges"/>
<rect x="226.73" y="426.48" width="19.67" height="18.17" fill="#88acd2" shape-rendering="crispEdges"/>
<rect x="246.10" y="426.48" width="19.67" height="18.17" fill="#e88580" shape-rendering="crispEdges"/>
<rect x="265.47" y="426.48" width="19.67" height="18.17" fill="#d42a2a" shape-rendering="crispEdges"/>
<rect x="284.84" y="426.48" width="19.67" height="18.17" fill="#6090c4" shape-rendering="crispEdges"/>
<rect x="304.21" y="426.48" width="19.67" height="18.17" fill="#6090c4" shape-rendering="crispEdges"/>
<rect x="323.58" y="426.48" width="19.67" height="18.17" fill="#6494c6" shape-rendering="crispEdges"/>
<text x="50.20" y="439.72" font-size="12" text-anchor="end" fill="#111" >LAMA5</text>
<rect x="52.40" y="444.35" width="19.67" height="18.17" fill="#f0bcb8" shape-rendering="crispEdges"/>
<rect x="71.77" y="444.35" width="19.67" height="18.17" fill="#e88a84" shape-rendering="crispEdges"/>
<rect x="91.14" y="444.35" width="19.67" height="18.17" fill="#548ac1" shape-rendering="crispEdges"/>
<rect x="110.51" y="444.35" width="19.67" height="18.17" fill="#f2d4d2" shape-rendering="crispEdges"/>
<rect x="129.88" y="444.35" width="19.67" height="18.17" fill="#acc6e0" shape-rendering="crispEdges"/>
<rect x="149.25" y="444.35" width="19.67" height="18.17" fill="#a2bedb" shape-rendering="crispEdges"/>
<rect x="168.62" y="444.35" width="19.67" height="18.17" fill="#6494c6" shape-rendering="crispEdges"/>
<rect x="187.99" y="444.35" width="19.67" height="18.17" fill="#bad0e4" shape-rendering="crispEdges"/>
<rect x="207.36" y="444.35" width="19.67" height="18.17" fill="#dd5a52" shape-rendering="crispEdges"/>
<rect x="226.73" y="444.35" width="19.67" height="18.17" fill="#4c86be" shape-rendering="crispEdges"/>
<rect x="246.10" y="444.35" width="19.67" height="18.17" fill="#6090c4" shape-rendering="crispEdges"/>
<rect x="265.47" y="444.35" width="19.67" height="18.17" fill="#6494c6" shape-rendering="crispEdges"/>
<rect x="284.84" y="444.35" width="19.67" height="18.17" fill="#6090c4" shape-rendering="crispEdges"/>
<rect x="304.21" y="444.35" width="19.67" height="18.17" fill="#6090c4" shape-rendering="crispEdges"/>
<rect x="323.58" y="444.35" width="19.67" height="18.17" fill="#6494c6" shape-rendering="crispEdges"/>
<text x="50.20" y="457.59" font-size="12" text-anchor="end" fill="#111" >LAMB1</text>
<rect x="52.40" y="462.22" width="19.67" height="18.17" fill="#88acd2" shape-rendering="crispEdges"/>
<rect x="71.77" y="462.22" width="19.67" height="18.17" fill="#6494c6" shape-rendering="crispEdges"/>
<rect x="91.14" y="462.22" width="19.67" height="18.17" fill="#d42a2a" shape-rendering="crispEdges"/>
<rect x="110.51" y="462.22" width="19.67" height="18.17" fill="#6494c6" shape-rendering="crispEdges"/>
<rect x="129.88" y="462.22" width="19.67" height="18.17" fill="#aac4de" shape-rendering="crispEdges"/>
<rect x="149.25" y="462.22" width="19.67" height="18.17" fill="#f5e4e2" shape-rendering="crispEdges"/>
<rect x="168.62" y="462.22" width="19.67" height="18.17" fill="#e8eaf4" shape-rendering="crispEdges"/>
<rect x="187.99" y="462.22" width="19.67" height="18.17" fill="#9ab8d8" shape-rendering="crispEdges"/>
<rect x="207.36" y="462.22" width="19.67" height="18.17" fill="#88acd2" shape-rendering="crispEdges"/>
<rect x="226.73" y="462.22" width="19.67" height="18.17" fill="#6a99c8" shape-rendering="crispEdges"/>
<rect x="246.10" y="462.22" width="19.67" height="18.17" fill="#cfdfec" shape-rendering="crispEdges"/>
<rect x="265.47" y="462.22" width="19.67" height="18.17" fill="#b6cce4" shape-rendering="crispEdges"/>
<rect x="284.84" y="462.22" width="19.67" height="18.17" fill="#6090c4" shape-rendering="crispEdges"/>
<rect x="304.21" y="462.22" width="19.67" height="18.17" fill="#4882bc" shape-rendering="crispEdges"/>
<rect x="323.58" y="462.22" width="19.67" height="18.17" fill="#4882bc" shape-rendering="crispEdges"/>
<text x="50.20" y="475.46" font-size="12" text-anchor="end" fill="#111" >LAMB2</text>
<rect x="52.40" y="480.09" width="19.67" height="18.17" fill="#88acd2" shape-rendering="crispEdges"/>
<rect x="71.77" y="480.09" width="19.67" height="18.17" fill="#84aad1" shape-rendering="crispEdges"/>
<rect x="91.14" y="480.09" width="19.67" height="18.17" fill="#b6cce4" shape-rendering="crispEdges"/>
<rect x="110.51" y="480.09" width="19.67" height="18.17" fill="#84aad1" shape-rendering="crispEdges"/>
<rect x="129.88" y="480.09" width="19.67" height="18.17" fill="#84aad1" shape-rendering="crispEdges"/>
<rect x="149.25" y="480.09" width="19.67" height="18.17" fill="#84aad1" shape-rendering="crispEdges"/>
<rect x="168.62" y="480.09" width="19.67" height="18.17" fill="#88acd2" shape-rendering="crispEdges"/>
<rect x="187.99" y="480.09" width="19.67" height="18.17" fill="#8aaed3" shape-rendering="crispEdges"/>
<rect x="207.36" y="480.09" width="19.67" height="18.17" fill="#88acd2" shape-rendering="crispEdges"/>
<rect x="226.73" y="480.09" width="19.67" height="18.17" fill="#84aad1" shape-rendering="crispEdges"/>
<rect x="246.10" y="480.09" width="19.67" height="18.17" fill="#84aad1" shape-rendering="crispEdges"/>
<rect x="265.47" y="480.09" width="19.67" height="18.17" fill="#d42a2a" shape-rendering="crispEdges"/>
<rect x="284.84" y="480.09" width="19.67" height="18.17" fill="#9ebcda" shape-rendering="crispEdges"/>
<rect x="304.21" y="480.09" width="19.67" height="18.17" fill="#84aad1" shape-rendering="crispEdges"/>
<rect x="323.58" y="480.09" width="19.67" height="18.17" fill="#84aad1" shape-rendering="crispEdges"/>
<text x="50.20" y="493.33" font-size="12" text-anchor="end" fill="#111" >LAMB3</text>
<rect x="52.40" y="497.96" width="19.67" height="18.17" fill="#7ca4ce" shape-rendering="crispEdges"/>
<rect x="71.77" y="497.96" width="19.67" height="18.17" fill="#7ca4ce" shape-rendering="crispEdges"/>
<rect x="91.14" y="497.96" width="19.67" height="18.17" fill="#7ca4ce" shape-rendering="crispEdges"/>
<rect x="110.51" y="497.96" width="19.67" height="18.17" fill="#7ca4ce" shape-rendering="crispEdges"/>
<rect x="129.88" y="497.96" width="19.67" height="18.17" fill="#d42a2a" shape-rendering="crispEdges"/>
<rect x="149.25" y="497.96" width="19.67" height="18.17" fill="#7ca4ce" shape-rendering="crispEdges"/>
<rect x="168.62" y="497.96" width="19.67" height="18.17" fill="#7ca4ce" shape-rendering="crispEdges"/>
<rect x="187.99" y="497.96" width="19.67" height="18.17" fill="#7ca4ce" shape-rendering="crispEdges"/>
<rect x="207.36" y="497.96" width="19.67" height="18.17" fill="#7ca4ce" shape-rendering="crispEdges"/>
<rect x="226.73" y="497.96" width="19.67" height="18.17" fill="#7ca4ce" shape-rendering="crispEdges"/>
<rect x="246.10" y="497.96" width="19.67" height="18.17" fill="#7ca4ce" shape-rendering="crispEdges"/>
<rect x="265.47" y="497.96" width="19.67" height="18.17" fill="#d42a2a" shape-rendering="crispEdges"/>
<rect x="284.84" y="497.96" width="19.67" height="18.17" fill="#7ca4ce" shape-rendering="crispEdges"/>
<rect x="304.21" y="497.96" width="19.67" height="18.17" fill="#7ca4ce" shape-rendering="crispEdges"/>
<rect x="323.58" y="497.96" width="19.67" height="18.17" fill="#7ca4ce" shape-rendering="crispEdges"/>
<text x="50.20" y="511.20" font-size="12" text-anchor="end" fill="#111" >LAMB4</text>
<rect x="52.40" y="515.83" width="19.67" height="18.17" fill="#c6d8e8" shape-rendering="crispEdges"/>
<rect x="71.77" y="515.83" width="19.67" height="18.17" fill="#94b4d6" shape-rendering="crispEdges"/>
<rect x="91.14" y="515.83" width="19.67" height="18.17" fill="#d42a2a" shape-rendering="crispEdges"/>
<rect x="110.51" y="515.83" width="19.67" height="18.17" fill="#7aa2cd" shape-rendering="crispEdges"/>
<rect x="129.88" y="515.83" width="19.67" height="18.17" fill="#a2bedb" shape-rendering="crispEdges"/>
<rect x="149.25" y="515.83" width="19.67" height="18.17" fill="#f0c0bc" shape-rendering="crispEdges"/>
<rect x="168.62" y="515.83" width="19.67" height="18.17" fill="#a2bedb" shape-rendering="crispEdges"/>
<rect x="187.99" y="515.83" width="19.67" height="18.17" fill="#b6cce4" shape-rendering="crispEdges"/>
<rect x="207.36" y="515.83" width="19.67" height="18.17" fill="#aec8e0" shape-rendering="crispEdges"/>
<rect x="226.73" y="515.83" width="19.67" height="18.17" fill="#4882bc" shape-rendering="crispEdges"/>
<rect x="246.10" y="515.83" width="19.67" height="18.17" fill="#f5f0ee" shape-rendering="crispEdges"/>
<rect x="265.47" y="515.83" width="19.67" height="18.17" fill="#6a99c8" shape-rendering="crispEdges"/>
<rect x="284.84" y="515.83" width="19.67" height="18.17" fill="#4480bb" shape-rendering="crispEdges"/>
<rect x="304.21" y="515.83" width="19.67" height="18.17" fill="#4a84bd" shape-rendering="crispEdges"/>
<rect x="323.58" y="515.83" width="19.67" height="18.17" fill="#4480bb" shape-rendering="crispEdges"/>
<text x="50.20" y="529.06" font-size="12" text-anchor="end" fill="#111" >LAMC1</text>
<rect x="52.40" y="533.70" width="19.67" height="18.17" fill="#a8c4de" shape-rendering="crispEdges"/>
<rect x="71.77" y="533.70" width="19.67" height="18.17" fill="#88acd2" shape-rendering="crispEdges"/>
<rect x="91.14" y="533.70" width="19.67" height="18.17" fill="#82a8d0" shape-rendering="crispEdges"/>
<rect x="110.51" y="533.70" width="19.67" height="18.17" fill="#82a8d0" shape-rendering="crispEdges"/>
<rect x="129.88" y="533.70" width="19.67" height="18.17" fill="#82a8d0" shape-rendering="crispEdges"/>
<rect x="149.25" y="533.70" width="19.67" height="18.17" fill="#b6cce4" shape-rendering="crispEdges"/>
<rect x="168.62" y="533.70" width="19.67" height="18.17" fill="#82a8d0" shape-rendering="crispEdges"/>
<rect x="187.99" y="533.70" width="19.67" height="18.17" fill="#88acd2" shape-rendering="crispEdges"/>
<rect x="207.36" y="533.70" width="19.67" height="18.17" fill="#90b2d4" shape-rendering="crispEdges"/>
<rect x="226.73" y="533.70" width="19.67" height="18.17" fill="#80a6cf" shape-rendering="crispEdges"/>
<rect x="246.10" y="533.70" width="19.67" height="18.17" fill="#80a6cf" shape-rendering="crispEdges"/>
<rect x="265.47" y="533.70" width="19.67" height="18.17" fill="#d42a2a" shape-rendering="crispEdges"/>
<rect x="284.84" y="533.70" width="19.67" height="18.17" fill="#82a8d0" shape-rendering="crispEdges"/>
<rect x="304.21" y="533.70" width="19.67" height="18.17" fill="#82a8d0" shape-rendering="crispEdges"/>
<rect x="323.58" y="533.70" width="19.67" height="18.17" fill="#7ca4ce" shape-rendering="crispEdges"/>
<text x="50.20" y="546.93" font-size="12" text-anchor="end" fill="#111" >LAMC2</text>
<rect x="52.40" y="551.57" width="19.67" height="18.17" fill="#b6cce4" shape-rendering="crispEdges"/>
<rect x="71.77" y="551.57" width="19.67" height="18.17" fill="#bed2e6" shape-rendering="crispEdges"/>
<rect x="91.14" y="551.57" width="19.67" height="18.17" fill="#d42a2a" shape-rendering="crispEdges"/>
<rect x="110.51" y="551.57" width="19.67" height="18.17" fill="#7aa2cd" shape-rendering="crispEdges"/>
<rect x="129.88" y="551.57" width="19.67" height="18.17" fill="#7aa2cd" shape-rendering="crispEdges"/>
<rect x="149.25" y="551.57" width="19.67" height="18.17" fill="#7aa2cd" shape-rendering="crispEdges"/>
<rect x="168.62" y="551.57" width="19.67" height="18.17" fill="#7aa2cd" shape-rendering="crispEdges"/>
<rect x="187.99" y="551.57" width="19.67" height="18.17" fill="#7aa2cd" shape-rendering="crispEdges"/>
<rect x="207.36" y="551.57" width="19.67" height="18.17" fill="#7aa2cd" shape-rendering="crispEdges"/>
<rect x="226.73" y="551.57" width="19.67" height="18.17" fill="#9ab8d8" shape-rendering="crispEdges"/>
<rect x="246.10" y="551.57" width="19.67" height="18.17" fill="#82a8d0" shape-rendering="crispEdges"/>
<rect x="265.47" y="551.57" width="19.67" height="18.17" fill="#82a8d0" shape-rendering="crispEdges"/>
<rect x="284.84" y="551.57" width="19.67" height="18.17" fill="#7aa2cd" shape-rendering="crispEdges"/>
<rect x="304.21" y="551.57" width="19.67" height="18.17" fill="#7aa2cd" shape-rendering="crispEdges"/>
<rect x="323.58" y="551.57" width="19.67" height="18.17" fill="#9ebcda" shape-rendering="crispEdges"/>
<text x="50.20" y="564.80" font-size="12" text-anchor="end" fill="#111" >LAMC3</text>
<defs><linearGradient id="gC" x1="0" y1="0" x2="0" y2="1"><stop offset="0" stop-color="#d42a2a"/><stop offset="0.16" stop-color="#e06262"/><stop offset="0.38" stop-color="#f3d4d2"/><stop offset="0.47" stop-color="#f7f5f5"/><stop offset="0.7" stop-color="#a9bddb"/><stop offset="1" stop-color="#3f78bb"/></linearGradient></defs>
<rect x="349.9" y="420" width="12.1" height="60" fill="url(#gC)"/>
<line x1="349.9" y1="428.50" x2="351.8" y2="428.50" stroke="#fff" stroke-width="0.5"/>
<line x1="360.1" y1="428.50" x2="362" y2="428.50" stroke="#fff" stroke-width="0.5"/>
<text x="365.80" y="431.00" font-size="7" text-anchor="start" fill="#333" >2</text>
<line x1="349.9" y1="445.10" x2="351.8" y2="445.10" stroke="#fff" stroke-width="0.5"/>
<line x1="360.1" y1="445.10" x2="362" y2="445.10" stroke="#fff" stroke-width="0.5"/>
<text x="365.80" y="447.60" font-size="7" text-anchor="start" fill="#333" >1</text>
<line x1="349.9" y1="461.70" x2="351.8" y2="461.70" stroke="#fff" stroke-width="0.5"/>
<line x1="360.1" y1="461.70" x2="362" y2="461.70" stroke="#fff" stroke-width="0.5"/>
<text x="365.80" y="464.20" font-size="7" text-anchor="start" fill="#333" >0</text>
<line x1="349.9" y1="478.30" x2="351.8" y2="478.30" stroke="#fff" stroke-width="0.5"/>
<line x1="360.1" y1="478.30" x2="362" y2="478.30" stroke="#fff" stroke-width="0.5"/>
<text x="365.80" y="480.80" font-size="7" text-anchor="start" fill="#333" >-1</text>
<text x="380.60" y="282.40" font-size="24" text-anchor="start" font-weight="bold" fill="#000" >d</text>
<line x1="435.40" y1="273.80" x2="435.40" y2="399.00" stroke="#222" stroke-width="1.1"/><line x1="433.10" y1="399.00" x2="435.40" y2="399.00" stroke="#222" stroke-width="1.0"/><text x="432.10" y="402.71" font-size="10.3" text-anchor="end" fill="#1a1a1a" >0</text><line x1="433.10" y1="357.50" x2="435.40" y2="357.50" stroke="#222" stroke-width="1.0"/><text x="432.10" y="361.21" font-size="10.3" text-anchor="end" fill="#1a1a1a" >20</text><line x1="433.10" y1="316.00" x2="435.40" y2="316.00" stroke="#222" stroke-width="1.0"/><text x="432.10" y="319.71" font-size="10.3" text-anchor="end" fill="#1a1a1a" >40</text><line x1="433.10" y1="274.50" x2="435.40" y2="274.50" stroke="#222" stroke-width="1.0"/><text x="432.10" y="278.21" font-size="10.3" text-anchor="end" fill="#1a1a1a" >60</text>
<text transform="translate(417.00,335.00) rotate(-90)" font-size="12" text-anchor="middle" fill="#1a1a1a">TM cellularity/section</text>
<line x1="435.40" y1="399.00" x2="680.00" y2="399.00" stroke="#222" stroke-width="1.1"/>
<path d="M450.50,399.00 L450.50,351.00 L481.60,351.00 L481.60,399.00" fill="#fff" stroke="#222" stroke-width="1.1"/>
<path d="M496.60,399.00 L496.60,348.30 L527.60,348.30 L527.60,399.00" fill="#fff" stroke="#222" stroke-width="1.1"/>
<path d="M542.30,399.00 L542.30,364.30 L573.20,364.30 L573.20,399.00" fill="#fff" stroke="#222" stroke-width="1.1"/>
<path d="M588.40,399.00 L588.40,360.30 L618.70,360.30 L618.70,399.00" fill="#fff" stroke="#222" stroke-width="1.1"/>
<path d="M634.20,399.00 L634.20,347.30 L664.60,347.30 L664.60,399.00" fill="#fff" stroke="#222" stroke-width="1.1"/>
<line x1="466.00" y1="399.00" x2="466.00" y2="401.50" stroke="#222" stroke-width="1.0"/>
<line x1="512.10" y1="399.00" x2="512.10" y2="401.50" stroke="#222" stroke-width="1.0"/>
<line x1="557.80" y1="399.00" x2="557.80" y2="401.50" stroke="#222" stroke-width="1.0"/>
<line x1="603.50" y1="399.00" x2="603.50" y2="401.50" stroke="#222" stroke-width="1.0"/>
<line x1="649.40" y1="399.00" x2="649.40" y2="401.50" stroke="#222" stroke-width="1.0"/>
<circle cx="466.00" cy="322.20" r="1.75" fill="none" stroke="#a0a0a0" stroke-width="0.9"/>
<circle cx="463.70" cy="332.90" r="1.75" fill="none" stroke="#a0a0a0" stroke-width="0.9"/>
<circle cx="468.60" cy="334.70" r="1.75" fill="none" stroke="#a0a0a0" stroke-width="0.9"/>
<circle cx="466.00" cy="343.00" r="1.75" fill="none" stroke="#a0a0a0" stroke-width="0.9"/>
<circle cx="463.90" cy="348.90" r="1.75" fill="none" stroke="#a0a0a0" stroke-width="0.9"/>
<circle cx="471.00" cy="348.90" r="1.75" fill="none" stroke="#a0a0a0" stroke-width="0.9"/>
<circle cx="467.00" cy="351.00" r="1.75" fill="none" stroke="#a0a0a0" stroke-width="0.9"/>
<circle cx="463.90" cy="355.30" r="1.75" fill="none" stroke="#a0a0a0" stroke-width="0.9"/>
<circle cx="454.20" cy="357.70" r="1.75" fill="none" stroke="#a0a0a0" stroke-width="0.9"/>
<circle cx="459.00" cy="357.70" r="1.75" fill="none" stroke="#a0a0a0" stroke-width="0.9"/>
<circle cx="478.00" cy="357.70" r="1.75" fill="none" stroke="#a0a0a0" stroke-width="0.9"/>
<circle cx="473.20" cy="359.40" r="1.75" fill="none" stroke="#a0a0a0" stroke-width="0.9"/>
<circle cx="463.90" cy="361.60" r="1.75" fill="none" stroke="#a0a0a0" stroke-width="0.9"/>
<circle cx="468.60" cy="361.60" r="1.75" fill="none" stroke="#a0a0a0" stroke-width="0.9"/>
<circle cx="466.00" cy="370.00" r="1.75" fill="none" stroke="#a0a0a0" stroke-width="0.9"/>
<circle cx="512.00" cy="332.70" r="1.75" fill="none" stroke="#707070" stroke-width="0.9"/>
<circle cx="507.00" cy="336.80" r="1.75" fill="none" stroke="#707070" stroke-width="0.9"/>
<circle cx="512.00" cy="338.90" r="1.75" fill="none" stroke="#707070" stroke-width="0.9"/>
<circle cx="517.50" cy="336.80" r="1.75" fill="none" stroke="#707070" stroke-width="0.9"/>
<circle cx="509.50" cy="346.30" r="1.75" fill="none" stroke="#707070" stroke-width="0.9"/>
<circle cx="514.50" cy="346.30" r="1.75" fill="none" stroke="#707070" stroke-width="0.9"/>
<circle cx="507.00" cy="353.40" r="1.75" fill="none" stroke="#707070" stroke-width="0.9"/>
<circle cx="517.00" cy="351.50" r="1.75" fill="none" stroke="#707070" stroke-width="0.9"/>
<circle cx="512.00" cy="355.50" r="1.75" fill="none" stroke="#707070" stroke-width="0.9"/>
<circle cx="509.50" cy="367.80" r="1.75" fill="none" stroke="#707070" stroke-width="0.9"/>
<circle cx="514.30" cy="366.00" r="1.75" fill="none" stroke="#707070" stroke-width="0.9"/>
<circle cx="557.80" cy="328.50" r="1.75" fill="none" stroke="#e8753a" stroke-width="0.9"/>
<circle cx="557.80" cy="343.00" r="1.75" fill="none" stroke="#e8753a" stroke-width="0.9"/>
<circle cx="557.80" cy="351.20" r="1.75" fill="none" stroke="#e8753a" stroke-width="0.9"/>
<circle cx="548.00" cy="355.40" r="1.75" fill="none" stroke="#e8753a" stroke-width="0.9"/>
<circle cx="553.00" cy="355.40" r="1.75" fill="none" stroke="#e8753a" stroke-width="0.9"/>
<circle cx="562.50" cy="357.50" r="1.75" fill="none" stroke="#e8753a" stroke-width="0.9"/>
<circle cx="567.00" cy="355.40" r="1.75" fill="none" stroke="#e8753a" stroke-width="0.9"/>
<circle cx="544.30" cy="362.00" r="1.75" fill="none" stroke="#e8753a" stroke-width="0.9"/>
<circle cx="548.30" cy="362.00" r="1.75" fill="none" stroke="#e8753a" stroke-width="0.9"/>
<circle cx="552.00" cy="363.50" r="1.75" fill="none" stroke="#e8753a" stroke-width="0.9"/>
<circle cx="557.80" cy="359.50" r="1.75" fill="none" stroke="#e8753a" stroke-width="0.9"/>
<circle cx="567.00" cy="362.00" r="1.75" fill="none" stroke="#e8753a" stroke-width="0.9"/>
<circle cx="571.00" cy="362.00" r="1.75" fill="none" stroke="#e8753a" stroke-width="0.9"/>
<circle cx="555.50" cy="366.00" r="1.75" fill="none" stroke="#e8753a" stroke-width="0.9"/>
<circle cx="559.50" cy="366.00" r="1.75" fill="none" stroke="#e8753a" stroke-width="0.9"/>
<circle cx="563.50" cy="366.00" r="1.75" fill="none" stroke="#e8753a" stroke-width="0.9"/>
<circle cx="567.00" cy="367.80" r="1.75" fill="none" stroke="#e8753a" stroke-width="0.9"/>
<circle cx="548.00" cy="367.80" r="1.75" fill="none" stroke="#e8753a" stroke-width="0.9"/>
<circle cx="553.00" cy="371.50" r="1.75" fill="none" stroke="#e8753a" stroke-width="0.9"/>
<circle cx="557.80" cy="372.00" r="1.75" fill="none" stroke="#e8753a" stroke-width="0.9"/>
<circle cx="562.50" cy="372.00" r="1.75" fill="none" stroke="#e8753a" stroke-width="0.9"/>
<circle cx="567.00" cy="373.80" r="1.75" fill="none" stroke="#e8753a" stroke-width="0.9"/>
<circle cx="550.80" cy="374.00" r="1.75" fill="none" stroke="#e8753a" stroke-width="0.9"/>
<circle cx="555.00" cy="376.50" r="1.75" fill="none" stroke="#e8753a" stroke-width="0.9"/>
<circle cx="562.50" cy="378.50" r="1.75" fill="none" stroke="#e8753a" stroke-width="0.9"/>
<circle cx="560.00" cy="381.00" r="1.75" fill="none" stroke="#e8753a" stroke-width="0.9"/>
<circle cx="555.50" cy="384.50" r="1.75" fill="none" stroke="#e8753a" stroke-width="0.9"/>
<circle cx="606.00" cy="347.00" r="1.75" fill="none" stroke="#4f9ba6" stroke-width="0.9"/>
<circle cx="599.00" cy="348.80" r="1.75" fill="none" stroke="#4f9ba6" stroke-width="0.9"/>
<circle cx="596.60" cy="351.30" r="1.75" fill="none" stroke="#4f9ba6" stroke-width="0.9"/>
<circle cx="611.00" cy="351.30" r="1.75" fill="none" stroke="#4f9ba6" stroke-width="0.9"/>
<circle cx="601.30" cy="353.40" r="1.75" fill="none" stroke="#4f9ba6" stroke-width="0.9"/>
<circle cx="606.00" cy="355.50" r="1.75" fill="none" stroke="#4f9ba6" stroke-width="0.9"/>
<circle cx="590.00" cy="357.60" r="1.75" fill="none" stroke="#4f9ba6" stroke-width="0.9"/>
<circle cx="593.50" cy="359.40" r="1.75" fill="none" stroke="#4f9ba6" stroke-width="0.9"/>
<circle cx="617.00" cy="357.60" r="1.75" fill="none" stroke="#4f9ba6" stroke-width="0.9"/>
<circle cx="613.50" cy="359.40" r="1.75" fill="none" stroke="#4f9ba6" stroke-width="0.9"/>
<circle cx="592.00" cy="363.80" r="1.75" fill="none" stroke="#4f9ba6" stroke-width="0.9"/>
<circle cx="596.00" cy="362.00" r="1.75" fill="none" stroke="#4f9ba6" stroke-width="0.9"/>
<circle cx="599.50" cy="362.00" r="1.75" fill="none" stroke="#4f9ba6" stroke-width="0.9"/>
<circle cx="603.50" cy="362.00" r="1.75" fill="none" stroke="#4f9ba6" stroke-width="0.9"/>
<circle cx="607.40" cy="362.00" r="1.75" fill="none" stroke="#4f9ba6" stroke-width="0.9"/>
<circle cx="611.00" cy="362.00" r="1.75" fill="none" stroke="#4f9ba6" stroke-width="0.9"/>
<circle cx="614.00" cy="364.00" r="1.75" fill="none" stroke="#4f9ba6" stroke-width="0.9"/>
<circle cx="607.40" cy="364.00" r="1.75" fill="none" stroke="#4f9ba6" stroke-width="0.9"/>
<circle cx="596.00" cy="367.70" r="1.75" fill="none" stroke="#4f9ba6" stroke-width="0.9"/>
<circle cx="603.50" cy="367.70" r="1.75" fill="none" stroke="#4f9ba6" stroke-width="0.9"/>
<circle cx="599.00" cy="372.00" r="1.75" fill="none" stroke="#4f9ba6" stroke-width="0.9"/>
<circle cx="608.50" cy="372.00" r="1.75" fill="none" stroke="#4f9ba6" stroke-width="0.9"/>
<circle cx="603.50" cy="374.00" r="1.75" fill="none" stroke="#4f9ba6" stroke-width="0.9"/>
<circle cx="649.30" cy="309.80" r="1.75" fill="none" stroke="#3a3ae6" stroke-width="0.9"/>
<circle cx="649.30" cy="316.00" r="1.75" fill="none" stroke="#3a3ae6" stroke-width="0.9"/>
<circle cx="649.30" cy="330.60" r="1.75" fill="none" stroke="#3a3ae6" stroke-width="0.9"/>
<circle cx="636.00" cy="337.00" r="1.75" fill="none" stroke="#3a3ae6" stroke-width="0.9"/>
<circle cx="639.80" cy="338.90" r="1.75" fill="none" stroke="#3a3ae6" stroke-width="0.9"/>
<circle cx="662.70" cy="338.90" r="1.75" fill="none" stroke="#3a3ae6" stroke-width="0.9"/>
<circle cx="640.50" cy="343.00" r="1.75" fill="none" stroke="#3a3ae6" stroke-width="0.9"/>
<circle cx="640.80" cy="341.00" r="1.75" fill="none" stroke="#3a3ae6" stroke-width="0.9"/>
<circle cx="644.30" cy="341.00" r="1.75" fill="none" stroke="#3a3ae6" stroke-width="0.9"/>
<circle cx="647.60" cy="341.00" r="1.75" fill="none" stroke="#3a3ae6" stroke-width="0.9"/>
<circle cx="651.00" cy="341.00" r="1.75" fill="none" stroke="#3a3ae6" stroke-width="0.9"/>
<circle cx="654.80" cy="341.00" r="1.75" fill="none" stroke="#3a3ae6" stroke-width="0.9"/>
<circle cx="659.00" cy="341.00" r="1.75" fill="none" stroke="#3a3ae6" stroke-width="0.9"/>
<circle cx="661.50" cy="345.00" r="1.75" fill="none" stroke="#3a3ae6" stroke-width="0.9"/>
<circle cx="644.50" cy="347.00" r="1.75" fill="none" stroke="#3a3ae6" stroke-width="0.9"/>
<circle cx="649.30" cy="347.50" r="1.75" fill="none" stroke="#3a3ae6" stroke-width="0.9"/>
<circle cx="656.50" cy="347.00" r="1.75" fill="none" stroke="#3a3ae6" stroke-width="0.9"/>
<circle cx="654.00" cy="351.30" r="1.75" fill="none" stroke="#3a3ae6" stroke-width="0.9"/>
<circle cx="644.50" cy="355.50" r="1.75" fill="none" stroke="#3a3ae6" stroke-width="0.9"/>
<circle cx="649.30" cy="355.50" r="1.75" fill="none" stroke="#3a3ae6" stroke-width="0.9"/>
<circle cx="647.00" cy="357.60" r="1.75" fill="none" stroke="#3a3ae6" stroke-width="0.9"/>
<circle cx="656.50" cy="357.60" r="1.75" fill="none" stroke="#3a3ae6" stroke-width="0.9"/>
<circle cx="661.00" cy="357.60" r="1.75" fill="none" stroke="#3a3ae6" stroke-width="0.9"/>
<circle cx="640.00" cy="361.80" r="1.75" fill="none" stroke="#3a3ae6" stroke-width="0.9"/>
<circle cx="644.50" cy="361.80" r="1.75" fill="none" stroke="#3a3ae6" stroke-width="0.9"/>
<circle cx="651.50" cy="361.80" r="1.75" fill="none" stroke="#3a3ae6" stroke-width="0.9"/>
<circle cx="647.00" cy="365.80" r="1.75" fill="none" stroke="#3a3ae6" stroke-width="0.9"/>
<circle cx="651.80" cy="367.60" r="1.75" fill="none" stroke="#3a3ae6" stroke-width="0.9"/>
<circle cx="649.30" cy="380.20" r="1.75" fill="none" stroke="#3a3ae6" stroke-width="0.9"/>
<line x1="466.10" y1="338.10" x2="466.10" y2="363.40" stroke="#333" stroke-width="1.1"/><line x1="458.60" y1="338.10" x2="473.60" y2="338.10" stroke="#333" stroke-width="1.1"/><line x1="458.60" y1="363.40" x2="473.60" y2="363.40" stroke="#333" stroke-width="1.1"/>
<line x1="512.20" y1="336.80" x2="512.20" y2="360.30" stroke="#444" stroke-width="1.1"/><line x1="504.70" y1="336.80" x2="519.70" y2="336.80" stroke="#444" stroke-width="1.1"/><line x1="504.70" y1="360.30" x2="519.70" y2="360.30" stroke="#444" stroke-width="1.1"/>
<line x1="557.70" y1="352.20" x2="557.70" y2="376.20" stroke="#333" stroke-width="1.1"/><line x1="550.20" y1="352.20" x2="565.20" y2="352.20" stroke="#333" stroke-width="1.1"/><line x1="550.20" y1="376.20" x2="565.20" y2="376.20" stroke="#333" stroke-width="1.1"/>
<line x1="603.50" y1="353.50" x2="603.50" y2="367.60" stroke="#333" stroke-width="1.1"/><line x1="596.00" y1="353.50" x2="611.00" y2="353.50" stroke="#333" stroke-width="1.1"/><line x1="596.00" y1="367.60" x2="611.00" y2="367.60" stroke="#333" stroke-width="1.1"/>
<line x1="649.40" y1="332.70" x2="649.40" y2="362.80" stroke="#333" stroke-width="1.1"/><line x1="641.90" y1="332.70" x2="656.90" y2="332.70" stroke="#333" stroke-width="1.1"/><line x1="641.90" y1="362.80" x2="656.90" y2="362.80" stroke="#333" stroke-width="1.1"/>
<text x="466.00" y="412.40" font-size="10" text-anchor="middle" font-weight="bold" fill="#1a1a1a" >WT</text>
<text x="512.10" y="412.40" font-size="10" text-anchor="middle" font-weight="bold" fill="#1a1a1a" >WT (EGFP)</text>
<text x="557.80" y="412.40" font-size="10" text-anchor="middle" font-weight="bold" fill="#1a1a1a" >G</text>
<text x="603.50" y="412.40" font-size="10" text-anchor="middle" font-weight="bold" fill="#1a1a1a" >22.8%</text>
<text x="649.40" y="412.40" font-size="10" text-anchor="middle" font-weight="bold" fill="#1a1a1a" >40.6%</text>
<path d="M559.30,288.70 L559.30,283.50 M559.30,285.80 L648.40,285.80 M648.40,283.50 L648.40,288.70" fill="none" stroke="#555" stroke-width="1.2"/>
<polygon points="571.80,277.50 572.71,279.25 574.65,279.57 573.27,280.98 573.56,282.93 571.80,282.05 570.04,282.93 570.33,280.98 568.95,279.57 570.89,279.25" fill="#111"/><polygon points="577.40,277.50 578.31,279.25 580.25,279.57 578.87,280.98 579.16,282.93 577.40,282.05 575.64,282.93 575.93,280.98 574.55,279.57 576.49,279.25" fill="#111"/><polygon points="583.00,277.50 583.91,279.25 585.85,279.57 584.47,280.98 584.76,282.93 583.00,282.05 581.24,282.93 581.53,280.98 580.15,279.57 582.09,279.25" fill="#111"/><polygon points="588.60,277.50 589.51,279.25 591.45,279.57 590.07,280.98 590.36,282.93 588.60,282.05 586.84,282.93 587.13,280.98 585.75,279.57 587.69,279.25" fill="#111"/>
<text x="602.00" y="283.20" font-size="7.5" font-weight="bold" fill="#1a1a1a" text-anchor="start"><tspan font-style="italic">P</tspan> = 0.0001</text>
<path d="M602.60,301.30 L602.60,296.10 M602.60,298.40 L648.40,298.40 M648.40,296.10 L648.40,301.30" fill="none" stroke="#555" stroke-width="1.2"/>
<polygon points="620.80,290.70 621.71,292.45 623.65,292.77 622.27,294.18 622.56,296.13 620.80,295.25 619.04,296.13 619.33,294.18 617.95,292.77 619.89,292.45" fill="#111"/><polygon points="626.40,290.70 627.31,292.45 629.25,292.77 627.87,294.18 628.16,296.13 626.40,295.25 624.64,296.13 624.93,294.18 623.55,292.77 625.49,292.45" fill="#111"/><polygon points="632.00,290.70 632.91,292.45 634.85,292.77 633.47,294.18 633.76,296.13 632.00,295.25 630.24,296.13 630.53,294.18 629.15,292.77 631.09,292.45" fill="#111"/>
<text x="608.40" y="307.20" font-size="7.5" font-weight="bold" fill="#1a1a1a" text-anchor="start"><tspan font-style="italic">P</tspan> = 0.0008</text>
<text x="381.20" y="436.70" font-size="24" text-anchor="start" font-weight="bold" fill="#000" >e</text>
<line x1="435.80" y1="435.80" x2="435.80" y2="560.20" stroke="#222" stroke-width="1.1"/><line x1="433.50" y1="560.20" x2="435.80" y2="560.20" stroke="#222" stroke-width="1.0"/><text x="432.50" y="563.91" font-size="10.3" text-anchor="end" fill="#1a1a1a" >0</text><line x1="433.50" y1="529.20" x2="435.80" y2="529.20" stroke="#222" stroke-width="1.0"/><text x="432.50" y="532.91" font-size="10.3" text-anchor="end" fill="#1a1a1a" >10</text><line x1="433.50" y1="498.20" x2="435.80" y2="498.20" stroke="#222" stroke-width="1.0"/><text x="432.50" y="501.91" font-size="10.3" text-anchor="end" fill="#1a1a1a" >20</text><line x1="433.50" y1="467.20" x2="435.80" y2="467.20" stroke="#222" stroke-width="1.0"/><text x="432.50" y="470.91" font-size="10.3" text-anchor="end" fill="#1a1a1a" >30</text><line x1="433.50" y1="436.20" x2="435.80" y2="436.20" stroke="#222" stroke-width="1.0"/><text x="432.50" y="439.91" font-size="10.3" text-anchor="end" fill="#1a1a1a" >40</text>
<text transform="translate(417.00,495.50) rotate(-90)" font-size="12" text-anchor="middle" fill="#1a1a1a">SC cellularity/section</text>
<line x1="435.80" y1="560.20" x2="680.00" y2="560.20" stroke="#222" stroke-width="1.1"/>
<path d="M451.20,560.20 L451.20,497.20 L480.90,497.20 L480.90,560.20" fill="#fff" stroke="#222" stroke-width="1.1"/>
<path d="M496.60,560.20 L496.60,502.00 L526.40,502.00 L526.40,560.20" fill="#fff" stroke="#222" stroke-width="1.1"/>
<path d="M542.40,560.20 L542.40,512.90 L572.30,512.90 L572.30,560.20" fill="#fff" stroke="#222" stroke-width="1.1"/>
<path d="M587.60,560.20 L587.60,502.30 L617.80,502.30 L617.80,560.20" fill="#fff" stroke="#222" stroke-width="1.1"/>
<path d="M633.60,560.20 L633.60,492.50 L663.00,492.50 L663.00,560.20" fill="#fff" stroke="#222" stroke-width="1.1"/>
<line x1="466.00" y1="560.20" x2="466.00" y2="562.70" stroke="#222" stroke-width="1.0"/>
<line x1="511.50" y1="560.20" x2="511.50" y2="562.70" stroke="#222" stroke-width="1.0"/>
<line x1="557.30" y1="560.20" x2="557.30" y2="562.70" stroke="#222" stroke-width="1.0"/>
<line x1="602.70" y1="560.20" x2="602.70" y2="562.70" stroke="#222" stroke-width="1.0"/>
<line x1="648.30" y1="560.20" x2="648.30" y2="562.70" stroke="#222" stroke-width="1.0"/>
<circle cx="463.00" cy="476.30" r="1.75" fill="none" stroke="#a0a0a0" stroke-width="0.9"/>
<circle cx="469.00" cy="479.50" r="1.75" fill="none" stroke="#a0a0a0" stroke-width="0.9"/>
<circle cx="456.60" cy="488.80" r="1.75" fill="none" stroke="#a0a0a0" stroke-width="0.9"/>
<circle cx="466.00" cy="488.00" r="1.75" fill="none" stroke="#a0a0a0" stroke-width="0.9"/>
<circle cx="475.00" cy="488.80" r="1.75" fill="none" stroke="#a0a0a0" stroke-width="0.9"/>
<circle cx="456.60" cy="495.00" r="1.75" fill="none" stroke="#a0a0a0" stroke-width="0.9"/>
<circle cx="463.70" cy="492.80" r="1.75" fill="none" stroke="#a0a0a0" stroke-width="0.9"/>
<circle cx="469.00" cy="492.80" r="1.75" fill="none" stroke="#a0a0a0" stroke-width="0.9"/>
<circle cx="475.00" cy="495.00" r="1.75" fill="none" stroke="#a0a0a0" stroke-width="0.9"/>
<circle cx="456.60" cy="501.30" r="1.75" fill="none" stroke="#a0a0a0" stroke-width="0.9"/>
<circle cx="466.00" cy="501.50" r="1.75" fill="none" stroke="#a0a0a0" stroke-width="0.9"/>
<circle cx="463.70" cy="504.30" r="1.75" fill="none" stroke="#a0a0a0" stroke-width="0.9"/>
<circle cx="469.50" cy="504.30" r="1.75" fill="none" stroke="#a0a0a0" stroke-width="0.9"/>
<circle cx="466.00" cy="510.80" r="1.75" fill="none" stroke="#a0a0a0" stroke-width="0.9"/>
<circle cx="466.00" cy="529.40" r="1.75" fill="none" stroke="#a0a0a0" stroke-width="0.9"/>
<circle cx="518.00" cy="482.80" r="1.75" fill="none" stroke="#a0a0a0" stroke-width="0.9"/>
<circle cx="511.50" cy="485.30" r="1.75" fill="none" stroke="#a0a0a0" stroke-width="0.9"/>
<circle cx="512.00" cy="492.00" r="1.75" fill="none" stroke="#a0a0a0" stroke-width="0.9"/>
<circle cx="505.00" cy="495.00" r="1.75" fill="none" stroke="#a0a0a0" stroke-width="0.9"/>
<circle cx="509.50" cy="500.00" r="1.75" fill="none" stroke="#a0a0a0" stroke-width="0.9"/>
<circle cx="514.00" cy="500.00" r="1.75" fill="none" stroke="#a0a0a0" stroke-width="0.9"/>
<circle cx="511.50" cy="503.50" r="1.75" fill="none" stroke="#a0a0a0" stroke-width="0.9"/>
<circle cx="512.00" cy="511.80" r="1.75" fill="none" stroke="#a0a0a0" stroke-width="0.9"/>
<circle cx="505.00" cy="520.00" r="1.75" fill="none" stroke="#a0a0a0" stroke-width="0.9"/>
<circle cx="509.50" cy="516.80" r="1.75" fill="none" stroke="#a0a0a0" stroke-width="0.9"/>
<circle cx="518.00" cy="517.00" r="1.75" fill="none" stroke="#a0a0a0" stroke-width="0.9"/>
<circle cx="557.10" cy="470.00" r="1.75" fill="none" stroke="#e8753a" stroke-width="0.9"/>
<circle cx="557.10" cy="488.80" r="1.75" fill="none" stroke="#e8753a" stroke-width="0.9"/>
<circle cx="560.70" cy="495.00" r="1.75" fill="none" stroke="#e8753a" stroke-width="0.9"/>
<circle cx="557.10" cy="498.30" r="1.75" fill="none" stroke="#e8753a" stroke-width="0.9"/>
<circle cx="557.10" cy="504.30" r="1.75" fill="none" stroke="#e8753a" stroke-width="0.9"/>
<circle cx="550.40" cy="507.30" r="1.75" fill="none" stroke="#e8753a" stroke-width="0.9"/>
<circle cx="553.30" cy="507.30" r="1.75" fill="none" stroke="#e8753a" stroke-width="0.9"/>
<circle cx="564.00" cy="507.30" r="1.75" fill="none" stroke="#e8753a" stroke-width="0.9"/>
<circle cx="557.10" cy="510.00" r="1.75" fill="none" stroke="#e8753a" stroke-width="0.9"/>
<circle cx="560.70" cy="510.00" r="1.75" fill="none" stroke="#e8753a" stroke-width="0.9"/>
<circle cx="547.00" cy="513.50" r="1.75" fill="none" stroke="#e8753a" stroke-width="0.9"/>
<circle cx="550.40" cy="513.50" r="1.75" fill="none" stroke="#e8753a" stroke-width="0.9"/>
<circle cx="564.00" cy="513.50" r="1.75" fill="none" stroke="#e8753a" stroke-width="0.9"/>
<circle cx="543.70" cy="517.00" r="1.75" fill="none" stroke="#e8753a" stroke-width="0.9"/>
<circle cx="557.10" cy="516.80" r="1.75" fill="none" stroke="#e8753a" stroke-width="0.9"/>
<circle cx="561.00" cy="516.80" r="1.75" fill="none" stroke="#e8753a" stroke-width="0.9"/>
<circle cx="570.80" cy="517.00" r="1.75" fill="none" stroke="#e8753a" stroke-width="0.9"/>
<circle cx="547.00" cy="520.00" r="1.75" fill="none" stroke="#e8753a" stroke-width="0.9"/>
<circle cx="550.40" cy="520.00" r="1.75" fill="none" stroke="#e8753a" stroke-width="0.9"/>
<circle cx="554.00" cy="520.00" r="1.75" fill="none" stroke="#e8753a" stroke-width="0.9"/>
<circle cx="560.70" cy="520.00" r="1.75" fill="none" stroke="#e8753a" stroke-width="0.9"/>
<circle cx="567.00" cy="520.00" r="1.75" fill="none" stroke="#e8753a" stroke-width="0.9"/>
<circle cx="564.50" cy="520.00" r="1.75" fill="none" stroke="#e8753a" stroke-width="0.9"/>
<circle cx="557.10" cy="522.50" r="1.75" fill="none" stroke="#e8753a" stroke-width="0.9"/>
<circle cx="561.00" cy="522.50" r="1.75" fill="none" stroke="#e8753a" stroke-width="0.9"/>
<circle cx="555.50" cy="526.00" r="1.75" fill="none" stroke="#e8753a" stroke-width="0.9"/>
<circle cx="559.00" cy="526.00" r="1.75" fill="none" stroke="#e8753a" stroke-width="0.9"/>
<circle cx="557.10" cy="532.20" r="1.75" fill="none" stroke="#e8753a" stroke-width="0.9"/>
<circle cx="602.50" cy="476.40" r="1.75" fill="none" stroke="#4f9ba6" stroke-width="0.9"/>
<circle cx="605.50" cy="482.50" r="1.75" fill="none" stroke="#4f9ba6" stroke-width="0.9"/>
<circle cx="600.00" cy="485.70" r="1.75" fill="none" stroke="#4f9ba6" stroke-width="0.9"/>
<circle cx="589.00" cy="491.80" r="1.75" fill="none" stroke="#4f9ba6" stroke-width="0.9"/>
<circle cx="594.50" cy="495.00" r="1.75" fill="none" stroke="#4f9ba6" stroke-width="0.9"/>
<circle cx="605.00" cy="495.00" r="1.75" fill="none" stroke="#4f9ba6" stroke-width="0.9"/>
<circle cx="611.00" cy="495.00" r="1.75" fill="none" stroke="#4f9ba6" stroke-width="0.9"/>
<circle cx="616.30" cy="491.80" r="1.75" fill="none" stroke="#4f9ba6" stroke-width="0.9"/>
<circle cx="600.00" cy="498.30" r="1.75" fill="none" stroke="#4f9ba6" stroke-width="0.9"/>
<circle cx="589.00" cy="501.30" r="1.75" fill="none" stroke="#4f9ba6" stroke-width="0.9"/>
<circle cx="616.30" cy="501.30" r="1.75" fill="none" stroke="#4f9ba6" stroke-width="0.9"/>
<circle cx="594.50" cy="504.50" r="1.75" fill="none" stroke="#4f9ba6" stroke-width="0.9"/>
<circle cx="600.00" cy="504.50" r="1.75" fill="none" stroke="#4f9ba6" stroke-width="0.9"/>
<circle cx="605.00" cy="504.50" r="1.75" fill="none" stroke="#4f9ba6" stroke-width="0.9"/>
<circle cx="589.00" cy="507.50" r="1.75" fill="none" stroke="#4f9ba6" stroke-width="0.9"/>
<circle cx="611.00" cy="507.50" r="1.75" fill="none" stroke="#4f9ba6" stroke-width="0.9"/>
<circle cx="616.30" cy="507.50" r="1.75" fill="none" stroke="#4f9ba6" stroke-width="0.9"/>
<circle cx="600.00" cy="510.50" r="1.75" fill="none" stroke="#4f9ba6" stroke-width="0.9"/>
<circle cx="605.00" cy="510.50" r="1.75" fill="none" stroke="#4f9ba6" stroke-width="0.9"/>
<circle cx="594.50" cy="513.80" r="1.75" fill="none" stroke="#4f9ba6" stroke-width="0.9"/>
<circle cx="611.00" cy="513.80" r="1.75" fill="none" stroke="#4f9ba6" stroke-width="0.9"/>
<circle cx="600.00" cy="516.80" r="1.75" fill="none" stroke="#4f9ba6" stroke-width="0.9"/>
<circle cx="605.00" cy="516.80" r="1.75" fill="none" stroke="#4f9ba6" stroke-width="0.9"/>
<circle cx="602.50" cy="529.00" r="1.75" fill="none" stroke="#4f9ba6" stroke-width="0.9"/>
<circle cx="648.00" cy="461.00" r="1.75" fill="none" stroke="#3a3ae6" stroke-width="0.9"/>
<circle cx="641.30" cy="470.10" r="1.75" fill="none" stroke="#3a3ae6" stroke-width="0.9"/>
<circle cx="648.00" cy="473.00" r="1.75" fill="none" stroke="#3a3ae6" stroke-width="0.9"/>
<circle cx="655.00" cy="473.00" r="1.75" fill="none" stroke="#3a3ae6" stroke-width="0.9"/>
<circle cx="644.70" cy="476.30" r="1.75" fill="none" stroke="#3a3ae6" stroke-width="0.9"/>
<circle cx="651.40" cy="476.30" r="1.75" fill="none" stroke="#3a3ae6" stroke-width="0.9"/>
<circle cx="634.60" cy="482.60" r="1.75" fill="none" stroke="#3a3ae6" stroke-width="0.9"/>
<circle cx="641.30" cy="485.70" r="1.75" fill="none" stroke="#3a3ae6" stroke-width="0.9"/>
<circle cx="648.00" cy="485.70" r="1.75" fill="none" stroke="#3a3ae6" stroke-width="0.9"/>
<circle cx="655.00" cy="482.60" r="1.75" fill="none" stroke="#3a3ae6" stroke-width="0.9"/>
<circle cx="661.90" cy="482.60" r="1.75" fill="none" stroke="#3a3ae6" stroke-width="0.9"/>
<circle cx="634.60" cy="488.70" r="1.75" fill="none" stroke="#3a3ae6" stroke-width="0.9"/>
<circle cx="641.30" cy="488.70" r="1.75" fill="none" stroke="#3a3ae6" stroke-width="0.9"/>
<circle cx="661.90" cy="488.70" r="1.75" fill="none" stroke="#3a3ae6" stroke-width="0.9"/>
<circle cx="648.00" cy="491.70" r="1.75" fill="none" stroke="#3a3ae6" stroke-width="0.9"/>
<circle cx="655.00" cy="491.70" r="1.75" fill="none" stroke="#3a3ae6" stroke-width="0.9"/>
<circle cx="641.30" cy="494.80" r="1.75" fill="none" stroke="#3a3ae6" stroke-width="0.9"/>
<circle cx="648.00" cy="498.10" r="1.75" fill="none" stroke="#3a3ae6" stroke-width="0.9"/>
<circle cx="641.30" cy="501.20" r="1.75" fill="none" stroke="#3a3ae6" stroke-width="0.9"/>
<circle cx="648.00" cy="504.40" r="1.75" fill="none" stroke="#3a3ae6" stroke-width="0.9"/>
<circle cx="655.00" cy="504.40" r="1.75" fill="none" stroke="#3a3ae6" stroke-width="0.9"/>
<circle cx="634.60" cy="507.40" r="1.75" fill="none" stroke="#3a3ae6" stroke-width="0.9"/>
<circle cx="641.30" cy="507.40" r="1.75" fill="none" stroke="#3a3ae6" stroke-width="0.9"/>
<circle cx="661.90" cy="507.40" r="1.75" fill="none" stroke="#3a3ae6" stroke-width="0.9"/>
<circle cx="648.00" cy="510.40" r="1.75" fill="none" stroke="#3a3ae6" stroke-width="0.9"/>
<circle cx="648.00" cy="513.70" r="1.75" fill="none" stroke="#3a3ae6" stroke-width="0.9"/>
<circle cx="655.00" cy="516.80" r="1.75" fill="none" stroke="#3a3ae6" stroke-width="0.9"/>
<circle cx="641.30" cy="520.00" r="1.75" fill="none" stroke="#3a3ae6" stroke-width="0.9"/>
<line x1="466.00" y1="484.30" x2="466.00" y2="509.40" stroke="#333" stroke-width="1.1"/><line x1="458.50" y1="484.30" x2="473.50" y2="484.30" stroke="#333" stroke-width="1.1"/><line x1="458.50" y1="509.40" x2="473.50" y2="509.40" stroke="#333" stroke-width="1.1"/>
<line x1="511.50" y1="489.00" x2="511.50" y2="514.00" stroke="#333" stroke-width="1.1"/><line x1="504.00" y1="489.00" x2="519.00" y2="489.00" stroke="#333" stroke-width="1.1"/><line x1="504.00" y1="514.00" x2="519.00" y2="514.00" stroke="#333" stroke-width="1.1"/>
<line x1="557.30" y1="499.60" x2="557.30" y2="525.70" stroke="#333" stroke-width="1.1"/><line x1="549.80" y1="499.60" x2="564.80" y2="499.60" stroke="#333" stroke-width="1.1"/><line x1="549.80" y1="525.70" x2="564.80" y2="525.70" stroke="#333" stroke-width="1.1"/>
<line x1="602.70" y1="490.20" x2="602.70" y2="514.30" stroke="#333" stroke-width="1.1"/><line x1="595.20" y1="490.20" x2="610.20" y2="490.20" stroke="#333" stroke-width="1.1"/><line x1="595.20" y1="514.30" x2="610.20" y2="514.30" stroke="#333" stroke-width="1.1"/>
<line x1="648.00" y1="477.30" x2="648.00" y2="507.40" stroke="#333" stroke-width="1.1"/><line x1="640.50" y1="477.30" x2="655.50" y2="477.30" stroke="#333" stroke-width="1.1"/><line x1="640.50" y1="507.40" x2="655.50" y2="507.40" stroke="#333" stroke-width="1.1"/>
<text x="466.00" y="573.40" font-size="10" text-anchor="middle" font-weight="bold" fill="#1a1a1a" >WT</text>
<text x="511.50" y="573.40" font-size="10" text-anchor="middle" font-weight="bold" fill="#1a1a1a" >WT (EGFP)</text>
<text x="557.30" y="573.40" font-size="10" text-anchor="middle" font-weight="bold" fill="#1a1a1a" >G</text>
<text x="602.70" y="573.40" font-size="10" text-anchor="middle" font-weight="bold" fill="#1a1a1a" >22.8%</text>
<text x="648.30" y="573.40" font-size="10" text-anchor="middle" font-weight="bold" fill="#1a1a1a" >40.6%</text>
<path d="M555.70,443.50 L555.70,438.30 M555.70,440.60 L647.70,440.60 M647.70,438.30 L647.70,443.50" fill="none" stroke="#555" stroke-width="1.2"/>
<polygon points="574.60,431.80 575.51,433.55 577.45,433.87 576.07,435.28 576.36,437.23 574.60,436.35 572.84,437.23 573.13,435.28 571.75,433.87 573.69,433.55" fill="#111"/><polygon points="580.20,431.80 581.11,433.55 583.05,433.87 581.67,435.28 581.96,437.23 580.20,436.35 578.44,437.23 578.73,435.28 577.35,433.87 579.29,433.55" fill="#111"/><polygon points="585.80,431.80 586.71,433.55 588.65,433.87 587.27,435.28 587.56,437.23 585.80,436.35 584.04,437.23 584.33,435.28 582.95,433.87 584.89,433.55" fill="#111"/><polygon points="591.40,431.80 592.31,433.55 594.25,433.87 592.87,435.28 593.16,437.23 591.40,436.35 589.64,437.23 589.93,435.28 588.55,433.87 590.49,433.55" fill="#111"/>
<text x="602.00" y="437.10" font-size="7.5" font-weight="bold" fill="#1a1a1a" text-anchor="start"><tspan font-style="italic">P</tspan> = 0.0001</text>
<path d="M600.20,455.10 L600.20,449.90 M600.20,452.20 L647.70,452.20 M647.70,449.90 L647.70,455.10" fill="none" stroke="#555" stroke-width="1.2"/>
<polygon points="623.00,443.60 623.91,445.35 625.85,445.67 624.47,447.08 624.76,449.03 623.00,448.15 621.24,449.03 621.53,447.08 620.15,445.67 622.09,445.35" fill="#111"/>
<text x="612.00" y="460.30" font-size="7.5" font-weight="bold" fill="#1a1a1a" text-anchor="start"><tspan font-style="italic">P</tspan> = 0.03</text>
<path d="M555.70,463.90 L555.70,458.70 M555.70,461.00 L600.20,461.00 M600.20,458.70 L600.20,463.90" fill="none" stroke="#555" stroke-width="1.2"/>
<polygon points="578.60,452.80 579.51,454.55 581.45,454.87 580.07,456.28 580.36,458.23 578.60,457.35 576.84,458.23 577.13,456.28 575.75,454.87 577.69,454.55" fill="#111"/>
<text x="566.50" y="469.80" font-size="7.5" font-weight="bold" fill="#1a1a1a" text-anchor="start"><tspan font-style="italic">P</tspan> = 0.03</text>
<text x="6.30" y="610.90" font-size="24" text-anchor="start" font-weight="bold" fill="#000" >f</text>
<line x1="66.40" y1="612.50" x2="66.40" y2="739.60" stroke="#222" stroke-width="1.1"/><line x1="64.00" y1="739.60" x2="66.40" y2="739.60" stroke="#222" stroke-width="1.0"/><text x="62.40" y="743.20" font-size="10" text-anchor="end" fill="#1a1a1a" >0.0</text><line x1="64.00" y1="707.95" x2="66.40" y2="707.95" stroke="#222" stroke-width="1.0"/><text x="62.40" y="711.55" font-size="10" text-anchor="end" fill="#1a1a1a" >0.5</text><line x1="64.00" y1="676.30" x2="66.40" y2="676.30" stroke="#222" stroke-width="1.0"/><text x="62.40" y="679.90" font-size="10" text-anchor="end" fill="#1a1a1a" >1.0</text><line x1="64.00" y1="644.65" x2="66.40" y2="644.65" stroke="#222" stroke-width="1.0"/><text x="62.40" y="648.25" font-size="10" text-anchor="end" fill="#1a1a1a" >1.5</text><line x1="64.00" y1="613.00" x2="66.40" y2="613.00" stroke="#222" stroke-width="1.0"/><text x="62.40" y="616.60" font-size="10" text-anchor="end" fill="#1a1a1a" >2.0</text>
<text transform="translate(44.20,674.00) rotate(-90)" font-size="12.2" text-anchor="middle" fill="#1a1a1a">Cellularity/section</text>
<line x1="66.40" y1="739.60" x2="194.20" y2="739.60" stroke="#222" stroke-width="1.1"/>
<line x1="102.80" y1="686.70" x2="102.80" y2="726.70" stroke="#777" stroke-width="1.1"/>
<line x1="94.00" y1="686.70" x2="112.00" y2="686.70" stroke="#777" stroke-width="1.2"/>
<rect x="84.3" y="726.7" width="37.0" height="12.9" fill="#7e7e7e" stroke="#222" stroke-width="1.2"/>
<line x1="157.50" y1="691.90" x2="157.50" y2="734.40" stroke="#333" stroke-width="1.1"/>
<line x1="148.00" y1="691.90" x2="166.50" y2="691.90" stroke="#777" stroke-width="1.2"/>
<line x1="148.00" y1="707.60" x2="166.50" y2="707.60" stroke="#333" stroke-width="1.2"/>
<rect x="139.2" y="722.9" width="36.6" height="16.7" fill="#f6dfe2" stroke="#222" stroke-width="1.2"/>
<rect x="139.2" y="734.4" width="36.6" height="5.2" fill="#7e7e7e" stroke="#222" stroke-width="1.2"/>
<line x1="157.50" y1="722.90" x2="157.50" y2="734.40" stroke="#333" stroke-width="1.1"/>
<line x1="102.80" y1="739.60" x2="102.80" y2="742.50" stroke="#222" stroke-width="1.0"/>
<line x1="157.50" y1="739.60" x2="157.50" y2="742.50" stroke="#222" stroke-width="1.0"/>
<rect x="73.7" y="615.3" width="9.0" height="9.2" fill="#f6dfe2" stroke="#111" stroke-width="1.1"/>
<rect x="73.7" y="627.4" width="9.0" height="9.1" fill="#7e7e7e" stroke="#111" stroke-width="1.1"/>
<text x="87.00" y="623.60" font-size="11" text-anchor="start" fill="#1a1a1a" >SC</text>
<text x="87.00" y="636.60" font-size="11" text-anchor="start" fill="#1a1a1a" >TM</text>
<text transform="translate(106.40,751.20) rotate(-45)" font-size="11.0" text-anchor="end" fill="#1a1a1a">22.8%</text>
<text transform="translate(161.50,751.20) rotate(-45)" font-size="11.0" text-anchor="end" fill="#1a1a1a">40.6%</text>
<text x="200.50" y="612.50" font-size="24" text-anchor="start" font-weight="bold" fill="#000" >g</text>
<line x1="256.90" y1="610.50" x2="256.90" y2="740.20" stroke="#555" stroke-width="1.1"/><line x1="254.90" y1="740.20" x2="256.90" y2="740.20" stroke="#555" stroke-width="1.0"/><text x="253.30" y="744.09" font-size="10.8" text-anchor="end" fill="#1a1a1a" >0</text><line x1="254.90" y1="707.85" x2="256.90" y2="707.85" stroke="#555" stroke-width="1.0"/><text x="253.30" y="711.74" font-size="10.8" text-anchor="end" fill="#1a1a1a" >20</text><line x1="254.90" y1="675.50" x2="256.90" y2="675.50" stroke="#555" stroke-width="1.0"/><text x="253.30" y="679.39" font-size="10.8" text-anchor="end" fill="#1a1a1a" >40</text><line x1="254.90" y1="643.15" x2="256.90" y2="643.15" stroke="#555" stroke-width="1.0"/><text x="253.30" y="647.04" font-size="10.8" text-anchor="end" fill="#1a1a1a" >60</text><line x1="254.90" y1="610.80" x2="256.90" y2="610.80" stroke="#555" stroke-width="1.0"/><text x="253.30" y="614.69" font-size="10.8" text-anchor="end" fill="#1a1a1a" >80</text>
<text transform="translate(237.80,673.00) rotate(-90)" font-size="12.5" text-anchor="middle" fill="#1a1a1a">TM cellularity/section</text>
<line x1="256.90" y1="740.20" x2="354.40" y2="740.20" stroke="#222" stroke-width="1.1"/>
<path d="M270.50,740.20 L270.50,712.40 L298.60,712.40 L298.60,740.20" fill="#fff" stroke="#222" stroke-width="1.2"/>
<path d="M312.30,740.20 L312.30,679.60 L340.50,679.60 L340.50,740.20" fill="#fff" stroke="#222" stroke-width="1.2"/>
<line x1="284.50" y1="740.20" x2="284.50" y2="743.30" stroke="#222" stroke-width="1.0"/>
<line x1="326.40" y1="740.20" x2="326.40" y2="743.30" stroke="#222" stroke-width="1.0"/>
<circle cx="284.50" cy="698.60" r="2.3" fill="none" stroke="#e8622c" stroke-width="1.0"/>
<circle cx="277.00" cy="705.00" r="2.3" fill="none" stroke="#e8622c" stroke-width="1.0"/>
<circle cx="291.90" cy="703.30" r="2.3" fill="none" stroke="#e8622c" stroke-width="1.0"/>
<circle cx="284.50" cy="709.70" r="2.3" fill="none" stroke="#e8622c" stroke-width="1.0"/>
<circle cx="274.10" cy="717.80" r="2.3" fill="none" stroke="#e8622c" stroke-width="1.0"/>
<circle cx="295.10" cy="717.80" r="2.3" fill="none" stroke="#e8622c" stroke-width="1.0"/>
<circle cx="287.90" cy="720.90" r="2.3" fill="none" stroke="#e8622c" stroke-width="1.0"/>
<circle cx="280.80" cy="724.50" r="2.3" fill="none" stroke="#e8622c" stroke-width="1.0"/>
<circle cx="326.40" cy="662.80" r="2.3" fill="none" stroke="#3c9c3c" stroke-width="1.0"/>
<circle cx="315.00" cy="692.00" r="2.3" fill="none" stroke="#3c9c3c" stroke-width="1.0"/>
<circle cx="318.70" cy="695.30" r="2.3" fill="none" stroke="#3c9c3c" stroke-width="1.0"/>
<circle cx="326.40" cy="693.60" r="2.3" fill="none" stroke="#3c9c3c" stroke-width="1.0"/>
<circle cx="333.80" cy="688.70" r="2.3" fill="none" stroke="#3c9c3c" stroke-width="1.0"/>
<circle cx="333.80" cy="698.60" r="2.3" fill="none" stroke="#3c9c3c" stroke-width="1.0"/>
<circle cx="326.40" cy="701.70" r="2.3" fill="none" stroke="#3c9c3c" stroke-width="1.0"/>
<line x1="284.50" y1="702.80" x2="284.50" y2="721.40" stroke="#333" stroke-width="1.1"/><line x1="278.10" y1="702.80" x2="290.90" y2="702.80" stroke="#333" stroke-width="1.1"/><line x1="278.10" y1="721.40" x2="290.90" y2="721.40" stroke="#333" stroke-width="1.1"/>
<line x1="326.40" y1="646.30" x2="326.40" y2="712.80" stroke="#333" stroke-width="1.1"/><line x1="319.50" y1="646.30" x2="333.30" y2="646.30" stroke="#333" stroke-width="1.1"/><line x1="319.50" y1="712.80" x2="333.30" y2="712.80" stroke="#333" stroke-width="1.1"/>
<text x="305.60" y="611.60" font-size="8.9" font-weight="bold" fill="#1a1a1a" text-anchor="middle"><tspan font-style="italic">P</tspan> = 0.018</text>
<polygon points="304.00,623.30 304.59,624.49 305.90,624.68 304.95,625.61 305.18,626.92 304.00,626.30 302.82,626.92 303.05,625.61 302.10,624.68 303.41,624.49" fill="#111"/>
<path d="M286.4,629.6 L286.4,635.6 M286.4,632.6 L326,632.6 M326,629.6 L326,635.6" stroke="#444" stroke-width="1.0" fill="none"/>
<text transform="translate(287.40,753.60) rotate(-45)" font-size="11.5" text-anchor="end" fill="#1a1a1a">3.9%</text>
<text transform="translate(329.80,753.60) rotate(-45)" font-size="11.5" text-anchor="end" fill="#1a1a1a">49.7%</text>
<line x1="413.60" y1="610.90" x2="413.60" y2="740.10" stroke="#444" stroke-width="1.1"/><line x1="411.60" y1="740.10" x2="413.60" y2="740.10" stroke="#444" stroke-width="1.0"/><text x="410.20" y="743.99" font-size="10.8" text-anchor="end" fill="#1a1a1a" >0</text><line x1="411.60" y1="707.93" x2="413.60" y2="707.93" stroke="#444" stroke-width="1.0"/><text x="410.20" y="711.81" font-size="10.8" text-anchor="end" fill="#1a1a1a" >10</text><line x1="411.60" y1="675.75" x2="413.60" y2="675.75" stroke="#444" stroke-width="1.0"/><text x="410.20" y="679.64" font-size="10.8" text-anchor="end" fill="#1a1a1a" >20</text><line x1="411.60" y1="643.58" x2="413.60" y2="643.58" stroke="#444" stroke-width="1.0"/><text x="410.20" y="647.46" font-size="10.8" text-anchor="end" fill="#1a1a1a" >30</text><line x1="411.60" y1="611.40" x2="413.60" y2="611.40" stroke="#444" stroke-width="1.0"/><text x="410.20" y="615.29" font-size="10.8" text-anchor="end" fill="#1a1a1a" >40</text>
<text transform="translate(394.00,673.00) rotate(-90)" font-size="12.5" text-anchor="middle" fill="#1a1a1a">SC cellularity/section</text>
<line x1="413.60" y1="740.10" x2="511.20" y2="740.10" stroke="#222" stroke-width="1.1"/>
<path d="M427.30,740.10 L427.30,706.10 L455.50,706.10 L455.50,740.10" fill="#fff" stroke="#222" stroke-width="1.2"/>
<path d="M469.50,740.10 L469.50,667.40 L497.40,667.40 L497.40,740.10" fill="#fff" stroke="#222" stroke-width="1.2"/>
<line x1="441.40" y1="740.10" x2="441.40" y2="743.20" stroke="#222" stroke-width="1.0"/>
<line x1="483.40" y1="740.10" x2="483.40" y2="743.20" stroke="#222" stroke-width="1.0"/>
<circle cx="434.00" cy="685.50" r="2.3" fill="none" stroke="#e8622c" stroke-width="1.0"/>
<circle cx="441.60" cy="688.40" r="2.3" fill="none" stroke="#e8622c" stroke-width="1.0"/>
<circle cx="448.90" cy="688.70" r="2.3" fill="none" stroke="#e8622c" stroke-width="1.0"/>
<circle cx="434.00" cy="704.90" r="2.3" fill="none" stroke="#e8622c" stroke-width="1.0"/>
<circle cx="448.90" cy="704.90" r="2.3" fill="none" stroke="#e8622c" stroke-width="1.0"/>
<circle cx="441.60" cy="708.10" r="2.3" fill="none" stroke="#e8622c" stroke-width="1.0"/>
<circle cx="434.00" cy="721.00" r="2.3" fill="none" stroke="#e8622c" stroke-width="1.0"/>
<circle cx="448.90" cy="724.40" r="2.3" fill="none" stroke="#e8622c" stroke-width="1.0"/>
<circle cx="441.30" cy="727.60" r="2.3" fill="none" stroke="#e8622c" stroke-width="1.0"/>
<circle cx="483.10" cy="640.00" r="2.3" fill="none" stroke="#3c9c3c" stroke-width="1.0"/>
<circle cx="475.80" cy="644.00" r="2.3" fill="none" stroke="#3c9c3c" stroke-width="1.0"/>
<circle cx="483.10" cy="650.10" r="2.3" fill="none" stroke="#3c9c3c" stroke-width="1.0"/>
<circle cx="490.80" cy="650.10" r="2.3" fill="none" stroke="#3c9c3c" stroke-width="1.0"/>
<circle cx="483.10" cy="669.40" r="2.3" fill="none" stroke="#3c9c3c" stroke-width="1.0"/>
<circle cx="483.10" cy="682.40" r="2.3" fill="none" stroke="#3c9c3c" stroke-width="1.0"/>
<circle cx="483.10" cy="692.10" r="2.3" fill="none" stroke="#3c9c3c" stroke-width="1.0"/>
<circle cx="483.10" cy="711.80" r="2.3" fill="none" stroke="#3c9c3c" stroke-width="1.0"/>
<line x1="441.40" y1="690.20" x2="441.40" y2="722.20" stroke="#333" stroke-width="1.1"/><line x1="434.80" y1="690.20" x2="448.00" y2="690.20" stroke="#333" stroke-width="1.1"/><line x1="434.80" y1="722.20" x2="448.00" y2="722.20" stroke="#333" stroke-width="1.1"/>
<line x1="483.40" y1="641.50" x2="483.40" y2="693.40" stroke="#333" stroke-width="1.1"/><line x1="476.80" y1="641.50" x2="490.00" y2="641.50" stroke="#333" stroke-width="1.1"/><line x1="476.80" y1="693.40" x2="490.00" y2="693.40" stroke="#333" stroke-width="1.1"/>
<text x="461.50" y="611.00" font-size="8.9" font-weight="bold" fill="#1a1a1a" text-anchor="middle"><tspan font-style="italic">P</tspan> = 0.002</text>
<polygon points="459.20,618.70 459.79,619.89 461.10,620.08 460.15,621.01 460.38,622.32 459.20,621.70 458.02,622.32 458.25,621.01 457.30,620.08 458.61,619.89" fill="#111"/><polygon points="463.40,618.70 463.99,619.89 465.30,620.08 464.35,621.01 464.58,622.32 463.40,621.70 462.22,622.32 462.45,621.01 461.50,620.08 462.81,619.89" fill="#111"/>
<path d="M442,625 L442,631 M442,628 L482.5,628 M482.5,625 L482.5,631" stroke="#444" stroke-width="1.0" fill="none"/>
<text transform="translate(444.80,753.40) rotate(-45)" font-size="11.5" text-anchor="end" fill="#1a1a1a">3.9%</text>
<text transform="translate(487.30,753.40) rotate(-45)" font-size="11.5" text-anchor="end" fill="#1a1a1a">49.7%</text>
<line x1="564.70" y1="610.50" x2="564.70" y2="740.10" stroke="#444" stroke-width="1.1"/><line x1="562.70" y1="740.10" x2="564.70" y2="740.10" stroke="#444" stroke-width="1.0"/><text x="561.30" y="743.88" font-size="10.5" text-anchor="end" fill="#1a1a1a" >0</text><line x1="562.70" y1="697.07" x2="564.70" y2="697.07" stroke="#444" stroke-width="1.0"/><text x="561.30" y="700.85" font-size="10.5" text-anchor="end" fill="#1a1a1a" >1</text><line x1="562.70" y1="654.04" x2="564.70" y2="654.04" stroke="#444" stroke-width="1.0"/><text x="561.30" y="657.82" font-size="10.5" text-anchor="end" fill="#1a1a1a" >2</text><line x1="562.70" y1="611.01" x2="564.70" y2="611.01" stroke="#444" stroke-width="1.0"/><text x="561.30" y="614.79" font-size="10.5" text-anchor="end" fill="#1a1a1a" >3</text>
<text transform="translate(551.00,672.70) rotate(-90)" font-size="12.5" text-anchor="middle" fill="#1a1a1a">Cellularity/section</text>
<line x1="564.70" y1="740.10" x2="662.20" y2="740.10" stroke="#222" stroke-width="1.1"/>
<line x1="592.40" y1="740.10" x2="592.40" y2="743.20" stroke="#222" stroke-width="1.0"/>
<line x1="634.40" y1="740.10" x2="634.40" y2="743.20" stroke="#222" stroke-width="1.0"/>
<line x1="634.40" y1="657.80" x2="634.40" y2="691.70" stroke="#333" stroke-width="1.1"/>
<line x1="627.30" y1="657.80" x2="641.10" y2="657.80" stroke="#555" stroke-width="1.2"/>
<line x1="627.30" y1="669.50" x2="641.10" y2="669.50" stroke="#333" stroke-width="1.2"/>
<rect x="620.3" y="691.7" width="28.2" height="48.4" fill="#f6dfe2" stroke="#222" stroke-width="1.2"/>
<rect x="620.3" y="708.1" width="28.2" height="32.0" fill="#7e7e7e" stroke="#222" stroke-width="1.2"/>
<line x1="634.40" y1="691.70" x2="634.40" y2="708.10" stroke="#333" stroke-width="1.1"/>
<rect x="570.3" y="612.4" width="9.7" height="9.9" fill="#f6dfe2" stroke="#111" stroke-width="1.1"/>
<rect x="570.3" y="624.5" width="9.7" height="10.0" fill="#7e7e7e" stroke="#111" stroke-width="1.1"/>
<text x="584.60" y="622.00" font-size="11" text-anchor="start" fill="#1a1a1a" >SC</text>
<text x="584.60" y="634.00" font-size="11" text-anchor="start" fill="#1a1a1a" >TM</text>
<text transform="translate(597.30,753.40) rotate(-45)" font-size="11.5" text-anchor="end" fill="#1a1a1a">3.9%</text>
<text transform="translate(640.10,753.40) rotate(-45)" font-size="11.5" text-anchor="end" fill="#1a1a1a">49.7%</text>
</svg></body></html>
